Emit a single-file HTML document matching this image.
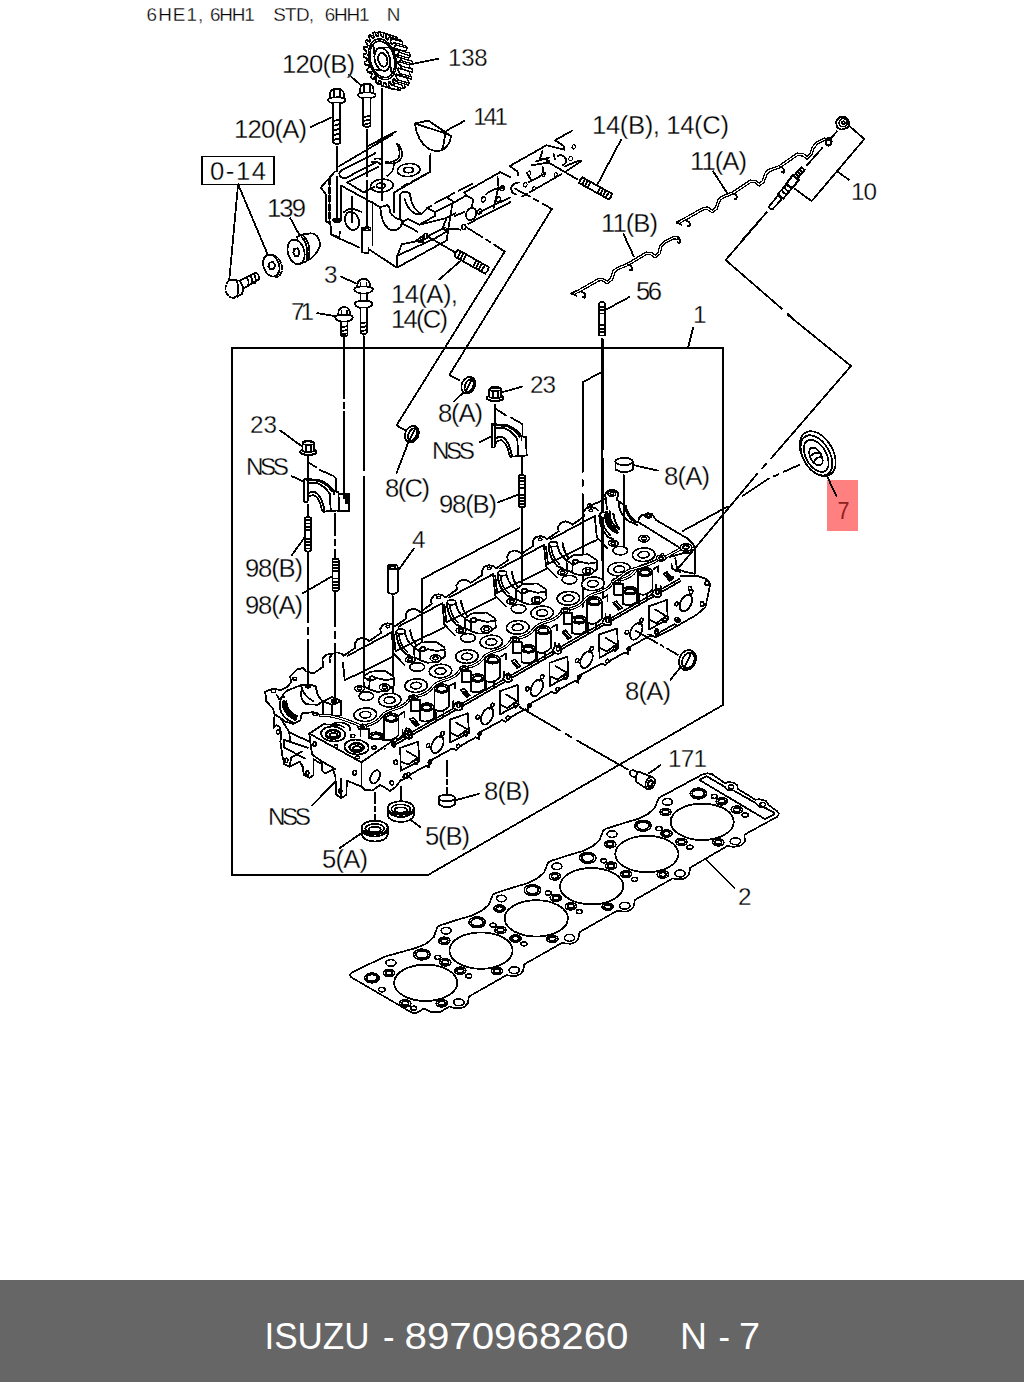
<!DOCTYPE html>
<html><head><meta charset="utf-8"><title>ISUZU - 8970968260 N - 7</title>
<style>
html,body{margin:0;padding:0;background:#fff;}
body{width:1024px;height:1382px;position:relative;overflow:hidden;font-family:"Liberation Sans",sans-serif;}
svg{position:absolute;left:0;top:0;display:block;}
svg path,svg line,svg ellipse,svg circle,svg rect,svg polyline,svg polygon{vector-effect:non-scaling-stroke;}
svg text{font-family:"Liberation Sans",sans-serif;fill:#000;stroke:none;}
svg text.lb{stroke:#fff;stroke-width:0.3px;}
.l{fill:none;stroke:#000;stroke-width:1.8;stroke-linecap:round;stroke-linejoin:round;}
.t{fill:none;stroke:#000;stroke-width:1.6;stroke-linecap:round;stroke-linejoin:round;}
.w{fill:#fff;stroke:#000;stroke-width:1.8;stroke-linecap:round;stroke-linejoin:round;}
.wt{fill:#fff;stroke:#000;stroke-width:1.6;stroke-linejoin:round;}
.b{fill:#000;stroke:none;}
.wg{fill:#fff;stroke:#000;stroke-width:1.25;stroke-linejoin:round;}
.h{fill:none;stroke:#000;stroke-width:2.2;stroke-linecap:round;stroke-linejoin:round;}
#footer{position:absolute;left:0;top:1280px;width:1024px;height:102px;background:#666666;}
#footer span{position:absolute;top:0;line-height:102px;color:#fff;font-size:40px;white-space:pre;}
</style></head><body>
<svg width="1024" height="1382" viewBox="0 0 1024 1382" shape-rendering="crispEdges">
<!-- 05_bg -->
<rect x="827" y="480" width="31" height="50.5" fill="#ff8080"/>

<!-- 10_frame -->
<path class="l" d="M232 348 H723 V705 L428 875 H232 Z"/>
<rect class="l" x="202" y="156.5" width="72" height="28"/>
<path class="l" d="M693 328 L688 348"/>

<!-- 20_tophead -->
<!-- frame A: region [310,130]-[510,290], scale 5.12 -->
<g transform="translate(310,130) scale(0.1953125)">
 <g class="l">
  <!-- left outline -->
  <path d="M55,295 L128,213"/>
  <path d="M55,295 L80,328 V465 L100,480"/>
  <path d="M150,185 L420,25"/>
  <path d="M300,80 L440,8"/>
  <path d="M163,205 L335,118 M188,243 L335,168 M163,205 Q138,225 160,242 Q175,252 188,243"/>
  <path d="M190,268 L350,188 M190,268 L275,320 M275,320 L330,290"/>
  <path d="M160,285 L360,395 L395,385 Q410,395 412,425"/>
  <path d="M160,285 V455 M215,340 V470"/>
  <path d="M105,480 L108,535 L150,548 L153,520 M108,535 L160,560 L250,600"/>
  <path d="M265,500 V625 L300,632 V605 M320,370 V590"/>
  <path d="M300,610 L445,705 L700,565"/>
  <path d="M445,705 V650 L470,585 M470,585 L590,560 M455,640 L640,555"/>
  <ellipse cx="215" cy="465" rx="35" ry="48" transform="rotate(-20 215 465)"/>
  <path d="M175,420 Q200,395 240,410 M240,410 L265,420"/>
  <!-- saddle 1 -->
  <path d="M360,400 Q365,470 400,505 Q440,525 465,495 L470,470"/>
  <path d="M412,425 Q430,450 465,460 L480,468"/>
  <path d="M430,320 V420 M460,330 V455"/>
  <path d="M460,330 Q480,305 510,325 L515,345 Q520,400 570,430"/>
  <path d="M485,355 Q500,410 545,432 L570,430"/>
  <path d="M430,320 L615,215 V130"/>
  <!-- step -->
  <path d="M570,430 L600,400 L640,420 L740,370 L700,345 L650,370"/>
  <path d="M480,468 L500,455 L560,485 L640,440 L640,420"/>
  <path d="M480,468 L475,480 L550,520"/>
  <path d="M740,370 L800,335 L835,355 L830,390"/>
  <path d="M800,335 L790,320 L975,215 L1024,240"/>
  <path d="M640,555 L700,520 M560,485 L700,450 L745,425"/>
  <path d="M700,450 L680,500 L700,520 M730,370 L700,560"/>
  <path d="M690,510 Q720,500 770,510 M600,545 L690,500"/>
  <path d="M540,570 L580,540 L580,575 Z"/>
  <path d="M740,440 L790,420 M810,480 L1024,370"/>
  <path d="M870,420 L1024,345 M960,240 L965,290 M900,330 Q930,300 990,295 M940,400 L965,290"/>
  <!-- dashed top edges -->
  <path d="M615,215 L520,265 M500,275 L470,292" />
  <path d="M830,275 L760,312 M740,322 L640,375 M620,388 L600,398"/>
 </g>
 <g class="l" style="stroke-width:2.4">
  <path d="M100,250 V475" stroke-dasharray="6 2.5"/>
  <path d="M138,90 V210 M138,240 V455"/>
  <path d="M291,0 V235 M291,262 V498"/>
  <path d="M368,0 V45 M368,70 V360"/>
 </g>
 <g class="t">
  <ellipse cx="138" cy="463" rx="20" ry="9"/><ellipse cx="138" cy="466" rx="11" ry="5"/>
  <ellipse cx="291" cy="506" rx="20" ry="9"/><ellipse cx="291" cy="509" rx="11" ry="5"/>
  <ellipse cx="505" cy="205" rx="58" ry="33" transform="rotate(-5 505 205)"/><ellipse cx="505" cy="205" rx="24" ry="14"/>
  <ellipse cx="368" cy="285" rx="58" ry="33" transform="rotate(-5 368 285)"/><ellipse cx="362" cy="285" rx="22" ry="13"/>
  <path d="M330,150 Q350,140 370,155 M315,165 Q345,155 360,175"/>
  <path d="M445,70 Q465,110 455,140 Q440,160 410,165 M455,75 Q480,115 468,145 Q455,168 420,172"/>
  <path d="M430,172 Q430,215 395,235"/>
  <ellipse cx="825" cy="430" rx="25" ry="33" transform="rotate(25 825 430)"/>
  <ellipse cx="593" cy="543" rx="10" ry="13"/><ellipse cx="787" cy="497" rx="10" ry="13"/>
  <ellipse cx="868" cy="418" rx="10" ry="13" transform="rotate(25 868 418)"/>
  <ellipse cx="888" cy="355" rx="10" ry="13" transform="rotate(25 888 355)"/>
  <ellipse cx="965" cy="355" rx="10" ry="13" transform="rotate(25 965 355)"/>
  <ellipse cx="985" cy="298" rx="10" ry="13" transform="rotate(25 985 298)"/>
 </g>
 <path class="b" d="M385,160 L415,162 L415,175 L385,172 Z"/>
</g>

<!-- 21_tophead_ext -->
<!-- frame S: region [480,120]-[640,248], scale 6.4 : ghost head right extension -->
<g transform="translate(480,120) scale(0.15625)">
 <g class="l">
  <path d="M245,355 L240,330 L190,295 L425,162 L460,170 L540,190 L535,165 L480,130 L590,68"/>
  <path d="M270,490 L300,472 M320,462 L520,347 M540,335 L650,262 M545,295 L640,258"/>
  <path d="M400,195 L385,245 L430,255 M470,215 L480,250 M500,230 Q530,215 550,250 Q555,280 530,290 M360,265 L440,240"/>
  <path d="M300,340 L330,390 L420,340 M330,390 L310,400 M400,300 L410,350 M330,290 L420,275"/>
  <path d="M250,400 Q215,400 200,430 Q195,465 230,478"/>
  <path d="M435,270 L620,378" style="stroke-width:1.8"/>
  <path d="M225,440 L320,490 M345,505 L375,520 M400,535 L465,572"/>
 </g>
 <g class="t" style="stroke-width:1.1">
  <ellipse cx="600" cy="172" rx="11" ry="14" transform="rotate(20 600 172)"/>
  <ellipse cx="580" cy="248" rx="11" ry="14" transform="rotate(20 580 248)"/>
  <ellipse cx="315" cy="340" rx="11" ry="14" transform="rotate(20 315 340)"/>
  <ellipse cx="405" cy="348" rx="11" ry="14" transform="rotate(20 405 348)"/>
  <ellipse cx="290" cy="415" rx="11" ry="14" transform="rotate(20 290 415)"/>
  <ellipse cx="485" cy="350" rx="10" ry="13" transform="rotate(20 485 350)"/>
  <ellipse cx="345" cy="440" rx="10" ry="13" transform="rotate(20 345 440)"/>
  <ellipse cx="435" cy="268" rx="9" ry="9" style="stroke-width:2"/>
 </g>
</g>

<!-- 30_gear -->
<g style="stroke-width:1.65">
<path class="wg" d="M408.5,58.8 L408.9,60.3 L412.0,61.2 L412.5,64.0 L409.6,64.9 L409.7,65.7 L409.7,67.2 L412.8,69.4 L412.6,72.1 L409.5,71.6 L409.4,72.4 L409.2,73.7 L411.8,77.0 L411.2,79.3 L408.1,77.5 L407.8,78.2 L407.3,79.3 L409.3,83.3 L408.1,85.1 L405.3,82.1 L404.9,82.6 L404.2,83.3 L405.4,87.8 L403.8,88.9 L401.6,85.0 L401.1,85.2 L400.1,85.6 L400.5,90.1 L398.7,90.3 L397.2,85.9 L396.6,85.9 L395.6,85.8 L395.0,89.9 L393.1,89.3 L392.4,84.8 L391.9,84.5 L390.8,83.9 L389.4,87.4 L387.5,86.0 L387.8,81.7 L387.3,81.2 L386.4,80.2 L384.2,82.6 L382.6,80.6 L383.8,76.9 L383.3,76.2 L382.6,74.9 L379.8,76.1 L378.6,73.6 L380.6,70.8 L380.3,70.0 L379.8,68.6 L376.7,68.4 L376.0,65.6 L378.6,64.1 L378.5,63.2 L378.3,61.7 L375.2,60.2 L375.0,57.4 L378.0,57.2 L378.0,56.4 L378.1,54.9 L375.3,52.2 L375.7,49.7 L378.8,50.8 L379.0,50.1 L379.4,48.8 L377.0,45.2 L378.0,43.1 L380.9,45.5 L381.3,44.9 L381.9,44.0 L380.3,39.7 L381.7,38.3 L384.2,41.7 L384.7,41.4 L385.5,40.8 L384.7,36.3 L386.4,35.6 L388.3,39.8 L388.9,39.7 L389.9,39.6 L390.0,35.2 L391.9,35.4 L393.0,39.9 L393.5,40.1 L394.6,40.4 L395.6,36.5 L397.5,37.6 L397.7,42.1 L398.2,42.5 L399.2,43.2 L401.1,40.3 L402.8,42.0 L402.1,46.1 L402.5,46.6 L403.4,47.8 L405.9,46.0 L407.3,48.3 L405.7,51.5 L406.1,52.3 L406.7,53.7 L409.7,53.1 L410.6,55.8 L408.3,58.0 Z"/>
<path class="wg" d="M365.1,65.0 L364.4,62.2 L376.0,65.6 L376.7,68.4 Z"/>
<path class="wg" d="M364.4,62.2 L367.0,60.6 L378.6,64.1 L376.0,65.6 Z"/>
<path class="wg" d="M363.6,56.8 L363.4,54.0 L375.0,57.4 L375.2,60.2 Z"/>
<path class="wg" d="M363.4,54.0 L366.4,53.7 L378.0,57.2 L375.0,57.4 Z"/>
<path class="wg" d="M368.2,72.7 L367.0,70.1 L378.6,73.6 L379.8,76.1 Z"/>
<path class="wg" d="M367.0,70.1 L369.0,67.4 L380.6,70.8 L378.6,73.6 Z"/>
<path class="wg" d="M372.6,79.2 L371.0,77.1 L382.6,80.6 L384.2,82.6 Z"/>
<path class="wg" d="M371.0,77.1 L372.2,73.4 L383.8,76.9 L382.6,80.6 Z"/>
<path class="wg" d="M363.7,48.8 L364.1,46.2 L375.7,49.7 L375.3,52.2 Z"/>
<path class="wg" d="M364.1,46.2 L367.2,47.4 L378.8,50.8 L375.7,49.7 Z"/>
<path class="wg" d="M377.8,83.9 L375.9,82.6 L387.5,86.0 L389.4,87.4 Z"/>
<path class="wg" d="M375.9,82.6 L376.2,78.2 L387.8,81.7 L387.5,86.0 Z"/>
<path class="wg" d="M365.4,41.7 L366.4,39.7 L378.0,43.1 L377.0,45.2 Z"/>
<path class="wg" d="M366.4,39.7 L369.3,42.0 L380.9,45.5 L378.0,43.1 Z"/>
<path class="wg" d="M383.4,86.5 L381.5,85.9 L393.1,89.3 L395.0,89.9 Z"/>
<path class="wg" d="M381.5,85.9 L380.8,81.3 L392.4,84.8 L393.1,89.3 Z"/>
<path class="wg" d="M368.7,36.2 L370.1,34.8 L381.7,38.3 L380.3,39.7 Z"/>
<path class="wg" d="M370.1,34.8 L372.6,38.3 L384.2,41.7 L381.7,38.3 Z"/>
<path class="wg" d="M373.1,32.8 L374.8,32.2 L386.4,35.6 L384.7,36.3 Z"/>
<path class="wg" d="M374.8,32.2 L376.7,36.3 L388.3,39.8 L386.4,35.6 Z"/>
<path class="wg" d="M388.9,86.7 L387.1,86.9 L398.7,90.3 L400.5,90.1 Z"/>
<path class="wg" d="M387.1,86.9 L385.6,82.5 L397.2,85.9 L398.7,90.3 Z"/>
<path class="wg" d="M393.8,84.4 L392.2,85.4 L403.8,88.9 L405.4,87.8 Z"/>
<path class="wg" d="M392.2,85.4 L390.0,81.6 L401.6,85.0 L403.8,88.9 Z"/>
<path class="wg" d="M378.4,31.7 L380.3,31.9 L391.9,35.4 L390.0,35.2 Z"/>
<path class="wg" d="M380.3,31.9 L381.4,36.5 L393.0,39.9 L391.9,35.4 Z"/>
<path class="wg" d="M384.0,33.1 L385.9,34.1 L397.5,37.6 L395.6,36.5 Z"/>
<path class="wg" d="M385.9,34.1 L386.1,38.6 L397.7,42.1 L397.5,37.6 Z"/>
<path class="wg" d="M397.7,79.9 L396.5,81.6 L408.1,85.1 L409.3,83.3 Z"/>
<path class="wg" d="M396.5,81.6 L393.7,78.7 L405.3,82.1 L408.1,85.1 Z"/>
<path class="wg" d="M400.2,73.5 L399.6,75.9 L411.2,79.3 L411.8,77.0 Z"/>
<path class="wg" d="M399.6,75.9 L396.5,74.1 L408.1,77.5 L411.2,79.3 Z"/>
<path class="wg" d="M389.5,36.8 L391.2,38.6 L402.8,42.0 L401.1,40.3 Z"/>
<path class="wg" d="M391.2,38.6 L390.5,42.6 L402.1,46.1 L402.8,42.0 Z"/>
<path class="wg" d="M401.2,65.9 L401.0,68.6 L412.6,72.1 L412.8,69.4 Z"/>
<path class="wg" d="M401.0,68.6 L397.9,68.2 L409.5,71.6 L412.6,72.1 Z"/>
<path class="wg" d="M394.3,42.5 L395.7,44.8 L407.3,48.3 L405.9,46.0 Z"/>
<path class="wg" d="M395.7,44.8 L394.1,48.1 L405.7,51.5 L407.3,48.3 Z"/>
<path class="wg" d="M398.1,49.7 L399.0,52.4 L410.6,55.8 L409.7,53.1 Z"/>
<path class="wg" d="M399.0,52.4 L396.7,54.6 L408.3,58.0 L410.6,55.8 Z"/>
<path class="wg" d="M400.4,57.8 L400.9,60.6 L412.5,64.0 L412.0,61.2 Z"/>
<path class="wg" d="M400.9,60.6 L398.0,61.5 L409.6,64.9 L412.5,64.0 Z"/>
<path class="wt" d="M396.9,55.4 L397.3,56.9 L400.4,57.8 L400.9,60.6 L398.0,61.5 L398.1,62.3 L398.1,63.8 L401.2,65.9 L401.0,68.6 L397.9,68.2 L397.8,68.9 L397.6,70.3 L400.2,73.5 L399.6,75.9 L396.5,74.1 L396.2,74.7 L395.7,75.8 L397.7,79.9 L396.5,81.6 L393.7,78.7 L393.3,79.1 L392.6,79.9 L393.8,84.4 L392.2,85.4 L390.0,81.6 L389.5,81.8 L388.5,82.1 L388.9,86.7 L387.1,86.9 L385.6,82.5 L385.0,82.5 L384.0,82.3 L383.4,86.5 L381.5,85.9 L380.8,81.3 L380.3,81.1 L379.2,80.5 L377.8,83.9 L375.9,82.6 L376.2,78.2 L375.7,77.7 L374.8,76.8 L372.6,79.2 L371.0,77.1 L372.2,73.4 L371.7,72.8 L371.0,71.5 L368.2,72.7 L367.0,70.1 L369.0,67.4 L368.7,66.6 L368.2,65.1 L365.1,65.0 L364.4,62.2 L367.0,60.6 L366.9,59.8 L366.7,58.3 L363.6,56.8 L363.4,54.0 L366.4,53.7 L366.4,52.9 L366.5,51.5 L363.7,48.8 L364.1,46.2 L367.2,47.4 L367.4,46.7 L367.8,45.4 L365.4,41.7 L366.4,39.7 L369.3,42.0 L369.7,41.5 L370.3,40.6 L368.7,36.2 L370.1,34.8 L372.6,38.3 L373.1,37.9 L373.9,37.4 L373.1,32.8 L374.8,32.2 L376.7,36.3 L377.3,36.3 L378.3,36.2 L378.4,31.7 L380.3,31.9 L381.4,36.5 L381.9,36.6 L383.0,37.0 L384.0,33.1 L385.9,34.1 L386.1,38.6 L386.6,39.0 L387.6,39.8 L389.5,36.8 L391.2,38.6 L390.5,42.6 L390.9,43.2 L391.8,44.3 L394.3,42.5 L395.7,44.8 L394.1,48.1 L394.5,48.8 L395.1,50.2 L398.1,49.7 L399.0,52.4 L396.7,54.6 Z"/>
<ellipse class="t" cx="382.3" cy="59.3" rx="13.4" ry="20.8" transform="rotate(-15.0 382.3 59.3)" style="stroke-width:1.6"/>
<ellipse class="t" cx="382.3" cy="59.3" rx="11.9" ry="18.6" transform="rotate(-15.0 382.3 59.3)" />
<ellipse class="t" cx="382.3" cy="59.3" rx="7.6" ry="11.8" transform="rotate(-15.0 382.3 59.3)" style="stroke-width:1.8"/>
<ellipse class="wt" cx="382.8" cy="59.8" rx="4.5" ry="7.0" transform="rotate(-15.0 382.8 59.8)" style="stroke-width:1.8"/>
<path class="t" style="stroke-width:1.6" d="M390.4,64.4 L391.5,73.5"/>
<path class="t" style="stroke-width:1.6" d="M380.4,70.2 L374.2,69.5"/>
<path class="t" style="stroke-width:1.6" d="M374.3,53.6 L373.5,44.6"/>
<path class="t" style="stroke-width:1.6" d="M383.0,47.8 L389.0,47.2"/>
</g>
<!-- 31_bolts_top -->
<!-- frame B: region [300,20]-[520,170], scale 4.6545 -->
<g transform="translate(300,20) scale(0.21484)">
 <g class="l">
  <!-- gear axis -->
  <path style="stroke-width:2.2" d="M381,322 V545 M381,572 V700"/>
  <!-- bolt 120(A) -->
  <path class="w" d="M140,345 Q140,322 172,320 Q204,322 204,345 V368 H140 Z"/>
  <path d="M158,330 V368 M186,330 V368"/>
  <path class="w" d="M130,372 Q130,360 172,360 Q214,360 212,372 Q212,388 172,388 Q132,388 130,372 Z"/>
  <path class="w" d="M155,388 V572 Q172,582 188,572 V388"/>
  <path d="M157,470 L187,462 M157,492 L187,484 M157,514 L187,506 M157,536 L187,528 M157,558 L187,550"/>
  <path style="stroke-width:2.2" d="M172,592 V700"/>
  <!-- bolt 120(B) -->
  <path class="w" d="M280,322 Q280,298 311,296 Q342,298 342,322 V346 H280 Z"/>
  <path d="M298,308 V346 M325,308 V346"/>
  <path class="w" d="M270,350 Q270,337 311,337 Q353,337 352,350 Q352,364 311,364 Q271,364 270,350 Z"/>
  <path class="w" d="M295,364 V493 Q311,503 328,493 V364"/>
  <path d="M297,452 L327,445 M297,470 L327,463 M297,487 L327,480"/>
  <path style="stroke-width:2.2" d="M311,512 V700"/>
  <!-- key 141 -->
  <path class="w" d="M535,482 L597,468 L703,540 Q700,575 672,600 Q640,620 600,600 Q545,565 535,482 Z"/>
  <path d="M535,482 L675,527 L703,540 M675,527 Q672,575 660,607"/>
  <path d="M607,625 V700"/>
  <!-- leaders -->
  <path d="M520,205 L645,180"/>
  <path d="M228,255 L285,305"/>
  <path d="M50,498 L155,450"/>
  <path d="M682,515 L765,470"/>
 </g>
</g>

<!-- 32_left_parts -->
<!-- frame C: region [200,180]-[400,340], scale 5.12 -->
<g transform="translate(200,180) scale(0.1953125)">
 <g class="l">
  <!-- 0-14 leaders -->
  <path d="M195,22 L150,510 M195,22 L345,378"/>
  <!-- bolt 0-14 (dashed head) -->
  <path d="M205,515 L285,475 Q305,480 300,510 L222,555" />
  <path d="M240,500 Q255,520 245,545 M258,490 Q273,510 263,535 M276,482 Q291,502 281,527"/>
  <path d="M150,512 L205,515 L222,555 L215,585 L170,603" />
  <path stroke-dasharray="4 2.5" d="M150,512 Q125,535 132,570 Q145,605 175,603"/>
  <path d="M190,520 Q200,560 190,598"/>
  <!-- washer -->
  <ellipse cx="365" cy="438" rx="40" ry="58" transform="rotate(-18 365 438)"/>
  <path stroke-dasharray="4 2.5" d="M345,383 Q400,375 420,440 Q425,490 390,497"/>
  <path d="M355,425 L372,418 L385,435 L378,455 L360,458 L350,442 Z"/>
  <!-- 139 bushing -->
  <path class="w" d="M498,290 Q545,268 585,275 Q620,300 612,345 Q590,395 545,415 L510,432 Z"/>
  <ellipse class="w" cx="492" cy="368" rx="42" ry="64" transform="rotate(-15 492 368)"/>
  <path d="M520,292 Q560,330 545,415 M530,287 Q572,325 556,408"/>
  <path d="M483,352 L500,350 L510,368 L503,388 L488,390 L478,372 Z"/>
  <path d="M462,195 L508,280"/>
  <!-- bolt 3 -->
  <path d="M722,495 L800,530"/>
  <path class="w" d="M805,548 Q803,508 838,505 Q872,508 870,548 L868,565 H808 Z"/>
  <path d="M822,525 V565 M852,525 V565"/>
  <path class="w" d="M790,560 Q790,545 838,545 Q886,545 885,560 Q880,580 838,582 Q795,580 790,560 Z"/>
  <path class="w" d="M822,582 V630 H855 V582"/>
  <path class="w" d="M793,635 Q793,618 838,618 Q883,618 883,635 Q875,655 838,657 Q800,655 793,635 Z"/>
  <path class="w" d="M822,655 V782 Q838,795 855,782 V655"/>
  <path d="M824,735 L853,728 M824,755 L853,748 M824,775 L853,768"/>
  <path d="M838,800 V830"/>
  <!-- bolt 71 -->
  <path d="M600,682 L695,697"/>
  <path class="w" d="M708,690 Q706,652 738,650 Q770,652 768,690 L766,708 H710 Z"/>
  <path d="M724,670 V708 M752,670 V708"/>
  <path class="w" d="M692,705 Q692,690 738,690 Q784,690 782,705 Q778,724 738,726 Q697,724 692,705 Z"/>
  <path class="w" d="M720,726 V795 Q738,806 755,795 V726"/>
  <path d="M722,755 L753,748 M722,775 L753,768 M722,792 L753,785"/>
  <path d="M738,808 V830"/>
 </g>
</g>

<!-- 33_right_top -->
<!-- frame F: region [670,100]-[870,240], scale 5.12 -->
<g transform="translate(670,100) scale(0.1953125)">
 <!-- 11(A) strip: double line via black+white -->
 <g fill="none" stroke-linejoin="round" stroke-linecap="round">
  <path stroke="#000" stroke-width="3.6" d="M40,628 L70,613 L172,556 L192,554 L217,571 L237,554 L252,511 L267,498 L322,476 L412,416 L437,418 L457,434 L477,418 L492,376 L507,361 L562,341 L652,278 L682,281 L702,296 L722,276 L732,246 L752,221 L792,201 L812,203"/>
  <path stroke="#fff" stroke-width="1.1" d="M46,628 L70,613 L172,556 L192,554 L217,571 L237,554 L252,511 L267,498 L322,476 L412,416 L437,418 L457,434 L477,418 L492,376 L507,361 L562,341 L652,278 L682,281 L702,296 L722,276 L732,246 L752,221 L792,201 L806,203"/>
 </g>
 <g class="l">
  <path d="M35,628 L60,640 M85,618 Q108,625 100,648 L90,645" style="stroke-width:1.8"/>
  <path d="M322,478 Q348,482 340,508 L330,505" style="stroke-width:1.8"/>
  <path d="M562,343 Q590,347 582,372 L572,369" style="stroke-width:1.8"/>
  <ellipse cx="812" cy="214" rx="15" ry="19" style="stroke-width:2.2"/>
  <!-- nut -->
  <path class="w" d="M850,110 L868,88 L900,88 L918,112 L912,140 L880,152 L855,140 Z"/>
  <ellipse cx="887" cy="116" rx="21" ry="21" style="stroke-width:1.6"/>
  <ellipse cx="888" cy="116" rx="8" ry="8" style="stroke-width:1.6"/>
  <!-- bracket for 10 -->
  <path d="M920,135 L995,200 L725,518 L640,455"/>
  <path d="M860,368 L915,408"/>
  <!-- dash-dot axis -->
  <path d="M855,160 L825,195 M780,245 L700,335"/>
  <!-- glow plug -->
  <path class="w" d="M672,345 L690,358 L652,402 L634,388 Z"/>
  <path d="M662,357 L680,370 M652,369 L670,382 M643,380 L660,393" style="stroke-width:2"/>
  <path class="w" d="M628,385 L660,410 L625,452 L596,428 Z" style="stroke-width:2.2"/>
  <path class="w" d="M596,432 L622,455 L580,505 L552,482 Z"/>
  <path d="M585,446 Q600,470 612,466 M572,460 Q588,485 600,481" style="stroke-width:2"/>
  <path class="w" d="M552,490 L572,507 L525,560 Q510,562 507,545 Z"/>
  <path d="M495,575 L370,717"/>
 </g>
</g>
<!-- frame G: region [560,190]-[760,330], scale 5.12 -->
<g transform="translate(560,190) scale(0.1953125)">
 <g fill="none" stroke-linejoin="round" stroke-linecap="round">
  <path stroke="#000" stroke-width="3.6" d="M65,530 L97,517 L197,460 L217,458 L242,474 L264,456 L277,416 L297,401 L347,381 L442,324 L467,326 L487,341 L507,324 L517,286 L537,266 L582,244 L605,246"/>
  <path stroke="#fff" stroke-width="1.1" d="M71,530 L97,517 L197,460 L217,458 L242,474 L264,456 L277,416 L297,401 L347,381 L442,324 L467,326 L487,341 L507,324 L517,286 L537,266 L582,244 L600,246"/>
 </g>
 <g class="l">
  <path d="M58,530 L85,542 M110,520 Q135,528 127,552 L117,549" style="stroke-width:1.8"/>
  <path d="M347,383 Q375,387 367,412 L357,409" style="stroke-width:1.8"/>
  <path d="M600,240 Q622,248 612,272 L602,268" style="stroke-width:1.8"/>
  <path d="M325,225 L378,340"/>
  <path d="M240,610 L355,548"/>
  <!-- stud 56 -->
  <path class="w" d="M201,585 Q201,572 215,572 Q229,572 229,585 V745 H201 Z"/>
  <path d="M203,598 H227 M203,615 H227 M203,632 H227 M203,690 H227 M203,710 H227 M203,728 H227"/>
 </g>
</g>
<!-- frame E: region [560,100]-[880,320], scale 3.2 -->
<g transform="translate(560,100) scale(0.3125)">
 <g class="l">
  <path d="M195,128 L120,270"/>
  <!-- long leader from plug: corner and down -->
  <path d="M640,385 L530,512 L710,668 M728,684 L740,694"/>
 </g>
</g>
<g class="l" transform="rotate(29 580.8 180.2)"><path class="w" d="M580.8,176.9 H614.5 Q616,180.2 614.5,183.5 H580.8 Q579.3,180.2 580.8,176.9 Z"/><path d="M584,177 V183.4 M587.2,177 V183.4 M590.4,177 V183.4 M601.5,177 V183.4 M604.7,177 V183.4 M607.9,177 V183.4 M611.1,177 V183.4"/></g>
<g class="l">
 <path d="M788,315 L851,366"/>
 <path d="M602,339 V560"/>
</g>

<!-- 40_boxparts -->
<g class="l">
<path style="stroke-width:2.2" d="M343.8,338 V398 M343.8,403 V408 M343.8,412 V498"/>
<path d="M364,337 V470 M364,477 V689"/>
<path style="stroke-width:1.8" d="M308,456 V480 M308,505 V517"/>
<path style="stroke-width:2" d="M308,553 V622 M308,628 V634 M308,640 V685"/>
<path style="stroke-width:2" d="M335.2,514 V535 M335.2,540 V545 M335.2,550 V558 M335.2,592 V626 M335.2,632 V638 M335.2,644 V698"/>
<path d="M392.6,596 V698"/>
<path style="stroke-width:1.8" d="M495.2,405 V425 M521.8,458 V475 M521.8,508 V587"/>
<path d="M602.6,371.5 L582.7,382.2 V472 M582.7,480 V486 M582.7,494 V607"/>
<path d="M602.6,339 V450 M602.6,458 V597"/>
<path d="M623.7,475 V546"/>
<path d="M519.6,528 L422,579 V643"/>
<path d="M309,463 L316,467 M320,470 L333.6,476 L335.6,478 V492"/>
<path d="M496,409 L506,415.5 M510.8,417.4 L522.5,424.2 V436"/>
<path d="M504.7,251.6 L396.5,425.4 L405,430"/>
<path d="M551.6,209.4 L449.3,375 L459,380"/>
<path d="M466,227 L482,237 M486,239.5 L490,242 M494,244.5 L504.7,251.6"/>
<path d="M427,236 L456,253"/>
<path d="M280,430.3 L301.4,446"/>
<path d="M291.7,476.2 L304.4,482"/>
<path d="M291.7,555.3 L304.4,537.7"/>
<path d="M396.5,473.2 L408.8,441"/>
<path d="M398.5,570 L413.7,548.8"/>
<path d="M454.2,401.2 L464,392"/>
<path d="M503,392 L522.5,386.5"/>
<path d="M479.6,442.2 L491.9,436.3"/>
<path d="M498.1,502.3 L518.6,494.5"/>
<path d="M713.1,171.3 L727.2,193.1"/>
<path d="M439.3,279.5 L461,260.4"/>
<path d="M303,593.2 L331.2,576.8"/>
</g>
<g class="l" transform="rotate(29.5 456.3 253.1)"><path class="w" d="M456.3,249.3 H491.5 Q493,253.1 491.5,256.9 H456.3 Q454.8,253.1 456.3,249.3 Z"/><path d="M459.5,249.5 V256.7 M462.7,249.5 V256.7 M465.9,249.5 V256.7 M477.5,249.5 V256.7 M480.7,249.5 V256.7 M483.9,249.5 V256.7 M487.1,249.5 V256.7"/></g>
<g transform="translate(308.3,448.4) scale(0.19531)" class="l">
<ellipse class="w" cx="0" cy="18" rx="42" ry="15" style="stroke-width:2"/>
<path class="w" d="M-30,14 V-25 Q-30,-38 0,-40 Q30,-38 30,-25 V14 Q0,24 -30,14 Z" style="stroke-width:1.8"/>
<ellipse cx="0" cy="-26" rx="28" ry="9"/>
<path d="M-12,-16 V18 M14,-16 V18"/>
</g>
<g transform="translate(495.2,394.5) scale(0.19531)" class="l">
<ellipse class="w" cx="0" cy="18" rx="42" ry="15" style="stroke-width:2"/>
<path class="w" d="M-30,14 V-25 Q-30,-38 0,-40 Q30,-38 30,-25 V14 Q0,24 -30,14 Z" style="stroke-width:1.8"/>
<ellipse cx="0" cy="-26" rx="28" ry="9"/>
<path d="M-12,-16 V18 M14,-16 V18"/>
</g>
<g transform="translate(304.4,479.1) scale(0.19531)" class="l">
<path class="w" d="M170,75 L228,75 L228,165 L170,165 Z"/>
<path class="b" d="M196,78 L228,78 L228,128 L210,128 L210,100 L196,100 Z"/>
<path class="w" d="M0,0 L72,3 Q125,20 152,62 L174,66 L178,160 L104,166 Q95,172 88,152 Q78,100 52,84 Q40,78 20,92 L17,112 Q8,126 0,115 Z"/>
<path style="stroke-width:1.9" d="M17,22 L60,19 Q105,35 130,76 M17,76 Q35,60 55,66 Q85,85 98,140 L103,165"/>
<path d="M17,8 V110 M130,76 L135,162 M152,62 L152,80"/>
<path style="stroke-width:1.9" d="M10,5 L70,8 Q118,24 142,64"/>
</g>
<g transform="translate(491.9,424.2) scale(0.19531)" class="l">
<path class="w" d="M0,0 L72,3 Q125,20 152,62 L174,66 L178,160 L104,166 Q95,172 88,152 Q78,100 52,84 Q40,78 20,92 L17,112 Q8,126 0,115 Z"/>
<path style="stroke-width:1.9" d="M17,22 L60,19 Q105,35 130,76 M17,76 Q35,60 55,66 Q85,85 98,140 L103,165"/>
<path d="M17,8 V110 M130,76 L135,162 M152,62 L152,80"/>
<path style="stroke-width:1.9" d="M10,5 L70,8 Q118,24 142,64"/>
</g>
<path class="w" d="M304.8,518.7 Q304.8,517.2 307.9,517.2 Q311.0,517.2 311.0,518.7 V550.4 Q307.9,552.9 304.8,550.4 Z"/>
<path class="l" d="M305.3,520.2 H310.5 M305.3,523.4 H310.5 M305.3,526.6 H310.5 M305.3,529.8 H310.5 M305.3,548.4 H310.5 M305.3,545.2 H310.5 M305.3,542.0 H310.5 M305.3,538.8 H310.5 "/>
<path class="w" d="M518.8,476.5 Q518.8,475.0 521.9,475.0 Q525.0,475.0 525.0,476.5 V506.2 Q521.9,508.7 518.8,506.2 Z"/>
<path class="l" d="M519.3,478.0 H524.5 M519.3,481.2 H524.5 M519.3,484.4 H524.5 M519.3,487.6 H524.5 M519.3,504.2 H524.5 M519.3,501.0 H524.5 M519.3,497.8 H524.5 M519.3,494.6 H524.5 "/>
<path class="w" d="M332.4,560.2 Q332.4,558.7 335.5,558.7 Q338.6,558.7 338.6,560.2 V590.0 Q335.5,592.5 332.4,590.0 Z"/>
<path class="l" d="M332.9,561.7 H338.1 M332.9,564.9 H338.1 M332.9,568.1 H338.1 M332.9,571.3 H338.1 M332.9,588.0 H338.1 M332.9,584.8 H338.1 M332.9,581.6 H338.1 M332.9,578.4 H338.1 "/>
<path class="w" d="M387.6,567 V592 Q392.6,596 397.6,592 V567 Z"/><ellipse class="w" cx="392.6" cy="567" rx="5" ry="2.6"/><ellipse class="t" cx="392.6" cy="567.2" rx="2.8" ry="1.3"/>
<g class="l" transform="rotate(25 411.8 434.2)">
<ellipse class="w" cx="411.8" cy="434.2" rx="6.6" ry="8.6" style="stroke-width:1.8"/>
<ellipse cx="412.6" cy="434.2" rx="4.0" ry="6.6"/>
<path d="M412.3,426.6 V441.8"/>
</g>
<g class="l" transform="rotate(25 468.4 385.2)">
<ellipse class="w" cx="468.4" cy="385.2" rx="6.6" ry="8.6" style="stroke-width:1.8"/>
<ellipse cx="469.2" cy="385.2" rx="4.0" ry="6.6"/>
<path d="M468.9,377.6 V392.8"/>
</g>
<!-- 50_head -->
<path class="l" d="M330.2,662.1 L329.4,658.2 L332.1,653.9 L337.0,652.4 L341.5,653.8 L343.8,655.7 L355.5,647.6 L354.8,643.7 L357.5,639.4 L362.4,637.8 L366.9,639.2 L369.2,641.2 L380.9,633.0 L380.2,629.1 L382.9,624.8 L387.8,623.3 L392.3,624.6 L394.6,626.6 L406.3,618.5 L405.5,614.6 L408.3,610.3 L413.2,608.7 L417.7,610.1 L420.0,612.1 L431.7,603.9 L430.9,600.0 L433.7,595.7 L438.6,594.2 L443.0,595.5 L445.4,597.5 L457.1,589.4 L456.3,585.5 L459.1,581.2 L463.9,579.6 L468.4,581.0 L470.8,582.9 L482.5,574.8 L481.7,570.9 L484.5,566.6 L489.3,565.1 L493.8,566.4 L496.2,568.4 L507.9,560.3 L507.1,556.4 L509.8,552.1 L514.7,550.5 L519.2,551.9 L521.6,553.8 L533.3,545.7 L532.5,541.8 L535.2,537.5 L540.1,536.0 L544.6,537.3 L547.0,539.3 L558.7,531.2 L557.9,527.3 L560.6,523.0 L565.5,521.4 L570.0,522.8 L572.3,524.7 L584.1,516.6 L583.3,512.7 L586.0,508.4 L590.9,506.9 L595.4,508.2 L597.7,510.2" />
<ellipse class="t" cx="387.8" cy="626.6" rx="1.8" ry="1.2" />
<ellipse class="t" cx="438.6" cy="597.5" rx="1.8" ry="1.2" />
<ellipse class="t" cx="489.3" cy="568.4" rx="1.8" ry="1.2" />
<ellipse class="t" cx="540.1" cy="539.3" rx="1.8" ry="1.2" />
<ellipse class="t" cx="590.9" cy="510.2" rx="1.8" ry="1.2" />
<path class="l" d="M 347.7,655.7 L 391.7,632.3 L 393.6,653.8 M 393.6,653.8 L 404.4,664.7 M 342.9,662.7 L 344.8,680.3 L 393.6,656.3" />
<path class="l" d="M 396.2,631.9 Q 396.6,645.5 405.4,653.8 L 410.2,655.7 M 410.2,630.3 Q 411.8,640.1 416.5,645.2" style="stroke-width:2"/>
<path class="l" d="M 404.4,629.5 Q 405.9,641.6 414.1,647.5" />
<path class="t" d="M 398.9,634.2 Q 400.1,645.5 407.3,651.8" />
<ellipse class="wt" cx="400.9" cy="631.5" rx="4.3" ry="2.5" />
<path class="l" d="M 398.5,626.6 L 442.5,603.2 L 444.4,624.6 M 444.4,624.6 L 455.2,635.6 M 393.6,633.6 L 395.6,651.2 L 444.4,627.2" />
<path class="l" d="M 447.0,602.8 Q 447.3,616.4 456.1,624.6 L 461.0,626.6 M 461.0,601.2 Q 462.6,611.0 467.3,616.1" style="stroke-width:2"/>
<path class="l" d="M 455.2,600.4 Q 456.7,612.5 464.9,618.4" />
<path class="t" d="M 449.7,605.1 Q 450.9,616.4 458.1,622.7" />
<ellipse class="wt" cx="451.6" cy="602.4" rx="4.3" ry="2.5" />
<path class="l" d="M 449.3,597.5 L 493.2,574.1 L 495.2,595.5 M 495.2,595.5 L 505.9,606.5 M 444.4,604.5 L 446.4,622.1 L 495.2,598.1" />
<path class="l" d="M 497.7,573.7 Q 498.1,587.3 506.9,595.5 L 511.8,597.5 M 511.8,572.1 Q 513.4,581.9 518.0,587.0" style="stroke-width:2"/>
<path class="l" d="M 505.9,571.3 Q 507.5,583.4 515.7,589.3" />
<path class="t" d="M 500.5,576.0 Q 501.6,587.3 508.9,593.6" />
<ellipse class="wt" cx="502.4" cy="573.3" rx="4.3" ry="2.5" />
<path class="l" d="M 500.1,568.4 L 544.0,545.0 L 546.0,566.4 M 546.0,566.4 L 556.7,577.4 M 495.2,575.4 L 497.1,593.0 L 546.0,569.0" />
<path class="l" d="M 548.5,544.6 Q 548.9,558.2 557.7,566.4 L 562.6,568.4 M 562.6,543.0 Q 564.1,552.8 568.8,557.9" style="stroke-width:2"/>
<path class="l" d="M 556.7,542.2 Q 558.3,554.3 566.5,560.2" />
<path class="t" d="M 551.2,546.9 Q 552.4,558.2 559.6,564.5" />
<ellipse class="wt" cx="553.2" cy="544.2" rx="4.3" ry="2.5" />
<path class="l" d="M 550.9,539.3 L 594.8,515.9 L 596.8,537.3 M 596.8,537.3 L 607.5,548.3 M 546.0,546.3 L 547.9,563.9 L 596.8,539.9" />
<path class="l" d="M 599.3,515.5 Q 599.7,529.1 608.5,537.3 L 613.4,539.3 M 613.4,513.9 Q 614.9,523.7 619.6,528.8" style="stroke-width:2"/>
<path class="l" d="M 607.5,513.1 Q 609.1,525.2 617.3,531.1" />
<path class="t" d="M 602.0,517.8 Q 603.2,529.1 610.4,535.4" />
<ellipse class="wt" cx="604.0" cy="515.1" rx="4.3" ry="2.5" />
<ellipse class="wt" cx="365.3" cy="714.7" rx="11.3" ry="6.8" transform="rotate(-3 365.3 714.7)" style="stroke-width:1.6"/>
<ellipse class="t" cx="365.3" cy="714.7" rx="5.5" ry="3.3" transform="rotate(-3 365.3 714.7)" />
<ellipse class="wt" cx="338.9" cy="729.3" rx="11.3" ry="6.8" transform="rotate(-3 338.9 729.3)" style="stroke-width:1.6"/>
<ellipse class="t" cx="338.9" cy="729.3" rx="5.5" ry="3.3" transform="rotate(-3 338.9 729.3)" />
<ellipse class="wt" cx="366.3" cy="696.1" rx="7.4" ry="4.3" />
<ellipse class="wt" cx="359.5" cy="688.7" rx="4.9" ry="2.9" />
<ellipse class="t" cx="359.5" cy="688.7" rx="2.1" ry="1.4" style="stroke-width:1.7"/>
<ellipse class="wt" cx="416.1" cy="685.6" rx="11.3" ry="6.8" transform="rotate(-3 416.1 685.6)" style="stroke-width:1.6"/>
<ellipse class="t" cx="416.1" cy="685.6" rx="5.5" ry="3.3" transform="rotate(-3 416.1 685.6)" />
<ellipse class="wt" cx="389.7" cy="700.2" rx="11.3" ry="6.8" transform="rotate(-3 389.7 700.2)" style="stroke-width:1.6"/>
<ellipse class="t" cx="389.7" cy="700.2" rx="5.5" ry="3.3" transform="rotate(-3 389.7 700.2)" />
<ellipse class="wt" cx="417.1" cy="667.0" rx="7.4" ry="4.3" />
<ellipse class="wt" cx="410.2" cy="659.6" rx="4.9" ry="2.9" />
<ellipse class="t" cx="410.2" cy="659.6" rx="2.1" ry="1.4" style="stroke-width:1.7"/>
<ellipse class="wt" cx="466.9" cy="656.5" rx="11.3" ry="6.8" transform="rotate(-3 466.9 656.5)" style="stroke-width:1.6"/>
<ellipse class="t" cx="466.9" cy="656.5" rx="5.5" ry="3.3" transform="rotate(-3 466.9 656.5)" />
<ellipse class="wt" cx="440.5" cy="671.1" rx="11.3" ry="6.8" transform="rotate(-3 440.5 671.1)" style="stroke-width:1.6"/>
<ellipse class="t" cx="440.5" cy="671.1" rx="5.5" ry="3.3" transform="rotate(-3 440.5 671.1)" />
<ellipse class="wt" cx="467.9" cy="637.9" rx="7.4" ry="4.3" />
<ellipse class="wt" cx="461.0" cy="630.5" rx="4.9" ry="2.9" />
<ellipse class="t" cx="461.0" cy="630.5" rx="2.1" ry="1.4" style="stroke-width:1.7"/>
<ellipse class="wt" cx="517.7" cy="627.4" rx="11.3" ry="6.8" transform="rotate(-3 517.7 627.4)" style="stroke-width:1.6"/>
<ellipse class="t" cx="517.7" cy="627.4" rx="5.5" ry="3.3" transform="rotate(-3 517.7 627.4)" />
<ellipse class="wt" cx="491.3" cy="642.0" rx="11.3" ry="6.8" transform="rotate(-3 491.3 642.0)" style="stroke-width:1.6"/>
<ellipse class="t" cx="491.3" cy="642.0" rx="5.5" ry="3.3" transform="rotate(-3 491.3 642.0)" />
<ellipse class="wt" cx="518.6" cy="608.8" rx="7.4" ry="4.3" />
<ellipse class="wt" cx="511.8" cy="601.4" rx="4.9" ry="2.9" />
<ellipse class="t" cx="511.8" cy="601.4" rx="2.1" ry="1.4" style="stroke-width:1.7"/>
<ellipse class="wt" cx="568.4" cy="598.3" rx="11.3" ry="6.8" transform="rotate(-3 568.4 598.3)" style="stroke-width:1.6"/>
<ellipse class="t" cx="568.4" cy="598.3" rx="5.5" ry="3.3" transform="rotate(-3 568.4 598.3)" />
<ellipse class="wt" cx="542.1" cy="612.9" rx="11.3" ry="6.8" transform="rotate(-3 542.1 612.9)" style="stroke-width:1.6"/>
<ellipse class="t" cx="542.1" cy="612.9" rx="5.5" ry="3.3" transform="rotate(-3 542.1 612.9)" />
<ellipse class="wt" cx="569.4" cy="579.7" rx="7.4" ry="4.3" />
<ellipse class="wt" cx="562.6" cy="572.3" rx="4.9" ry="2.9" />
<ellipse class="t" cx="562.6" cy="572.3" rx="2.1" ry="1.4" style="stroke-width:1.7"/>
<ellipse class="wt" cx="619.2" cy="569.2" rx="11.3" ry="6.8" transform="rotate(-3 619.2 569.2)" style="stroke-width:1.6"/>
<ellipse class="t" cx="619.2" cy="569.2" rx="5.5" ry="3.3" transform="rotate(-3 619.2 569.2)" />
<ellipse class="wt" cx="592.9" cy="583.8" rx="11.3" ry="6.8" transform="rotate(-3 592.9 583.8)" style="stroke-width:1.6"/>
<ellipse class="t" cx="592.9" cy="583.8" rx="5.5" ry="3.3" transform="rotate(-3 592.9 583.8)" />
<ellipse class="wt" cx="620.2" cy="550.6" rx="7.4" ry="4.3" />
<ellipse class="wt" cx="613.4" cy="543.2" rx="4.9" ry="2.9" />
<ellipse class="t" cx="613.4" cy="543.2" rx="2.1" ry="1.4" style="stroke-width:1.7"/>
<ellipse class="wt" cx="643.6" cy="554.7" rx="11.3" ry="6.8" transform="rotate(-3 643.6 554.7)" style="stroke-width:1.6"/>
<ellipse class="t" cx="643.6" cy="554.7" rx="5.5" ry="3.3" transform="rotate(-3 643.6 554.7)" />
<path class="w" d="M 363.4,676.6 L 370.2,671.7 L 384.8,670.7 L 393.6,676.6 L 394.2,685.4 L 386.8,691.2 L 377.0,691.8 L 369.2,689.3 L 363.8,686.4 Z" />
<path class="l" d="M 369.2,689.3 L 369.6,680.9 L 377.0,678.2 L 385.8,680.1 L 394.2,678.6 M 369.6,680.9 L 363.8,677.0" />
<ellipse class="t" cx="372.1" cy="678.2" rx="2.7" ry="1.8" style="stroke-width:2"/>
<ellipse class="wt" cx="384.8" cy="687.3" rx="5.5" ry="3.3" />
<ellipse class="t" cx="384.8" cy="687.3" rx="2.5" ry="1.6" style="stroke-width:1.6"/>
<path class="w" d="M 414.1,647.5 L 421.0,642.6 L 435.6,641.6 L 444.4,647.5 L 445.0,656.3 L 437.6,662.1 L 427.8,662.7 L 420.0,660.2 L 414.5,657.3 Z" />
<path class="l" d="M 420.0,660.2 L 420.4,651.8 L 427.8,649.1 L 436.6,651.0 L 445.0,649.5 M 420.4,651.8 L 414.5,647.9" />
<ellipse class="t" cx="422.9" cy="649.1" rx="2.7" ry="1.8" style="stroke-width:2"/>
<ellipse class="wt" cx="435.6" cy="658.2" rx="5.5" ry="3.3" />
<ellipse class="t" cx="435.6" cy="658.2" rx="2.5" ry="1.6" style="stroke-width:1.6"/>
<path class="w" d="M 464.9,618.4 L 471.8,613.5 L 486.4,612.5 L 495.2,618.4 L 495.8,627.2 L 488.4,633.0 L 478.6,633.6 L 470.8,631.1 L 465.3,628.2 Z" />
<path class="l" d="M 470.8,631.1 L 471.2,622.7 L 478.6,620.0 L 487.4,621.9 L 495.8,620.4 M 471.2,622.7 L 465.3,618.8" />
<ellipse class="t" cx="473.7" cy="620.0" rx="2.7" ry="1.8" style="stroke-width:2"/>
<ellipse class="wt" cx="486.4" cy="629.1" rx="5.5" ry="3.3" />
<ellipse class="t" cx="486.4" cy="629.1" rx="2.5" ry="1.6" style="stroke-width:1.6"/>
<path class="w" d="M 515.7,589.3 L 522.5,584.4 L 537.2,583.4 L 546.0,589.3 L 546.6,598.1 L 539.1,603.9 L 529.4,604.5 L 521.6,602.0 L 516.1,599.1 Z" />
<path class="l" d="M 521.6,602.0 L 522.0,593.6 L 529.4,590.9 L 538.2,592.8 L 546.6,591.2 M 522.0,593.6 L 516.1,589.7" />
<ellipse class="t" cx="524.5" cy="590.9" rx="2.7" ry="1.8" style="stroke-width:2"/>
<ellipse class="wt" cx="537.2" cy="600.0" rx="5.5" ry="3.3" />
<ellipse class="t" cx="537.2" cy="600.0" rx="2.5" ry="1.6" style="stroke-width:1.6"/>
<path class="w" d="M 566.5,560.2 L 573.3,555.3 L 588.0,554.3 L 596.8,560.2 L 597.3,569.0 L 589.9,574.8 L 580.2,575.4 L 572.3,572.9 L 566.9,570.0 Z" />
<path class="l" d="M 572.3,572.9 L 572.7,564.5 L 580.2,561.8 L 588.9,563.7 L 597.3,562.1 M 572.7,564.5 L 566.9,560.6" />
<ellipse class="t" cx="575.3" cy="561.8" rx="2.7" ry="1.8" style="stroke-width:2"/>
<ellipse class="wt" cx="588.0" cy="570.9" rx="5.5" ry="3.3" />
<ellipse class="t" cx="588.0" cy="570.9" rx="2.5" ry="1.6" style="stroke-width:1.6"/>
<path class="l" d="M 620.6,579.9 C 627.0,578.4 633.3,574.5 636.0,570.2 C 638.8,565.9 646.6,564.3 651.4,562.7 C 658.3,560.0 661.2,557.3 662.6,554.5" style="stroke-width:3.2"/>
<path class="l" d="M 620.6,579.9 C 627.0,578.4 633.3,574.5 636.0,570.2 C 638.8,565.9 646.6,564.3 651.4,562.7 C 658.3,560.0 661.2,557.3 662.6,554.5" style="stroke:#fff;stroke-width:1"/>
<ellipse class="wt" cx="616.3" cy="581.5" rx="4.3" ry="2.7" style="stroke-width:1.7"/>
<ellipse class="t" cx="616.3" cy="581.5" rx="2.0" ry="1.2" />
<path class="l" d="M 569.8,609.0 C 576.2,607.5 582.5,603.6 585.2,599.3 C 588.0,595.0 595.8,593.4 600.7,591.8 C 607.5,589.1 610.4,586.4 611.8,583.6" style="stroke-width:3.2"/>
<path class="l" d="M 569.8,609.0 C 576.2,607.5 582.5,603.6 585.2,599.3 C 588.0,595.0 595.8,593.4 600.7,591.8 C 607.5,589.1 610.4,586.4 611.8,583.6" style="stroke:#fff;stroke-width:1"/>
<ellipse class="wt" cx="565.5" cy="610.6" rx="4.3" ry="2.7" style="stroke-width:1.7"/>
<ellipse class="t" cx="565.5" cy="610.6" rx="2.0" ry="1.2" />
<path class="l" d="M 519.0,638.1 C 525.5,636.6 531.7,632.7 534.5,628.4 C 537.2,624.1 545.0,622.5 549.9,620.9 C 556.7,618.2 559.6,615.5 561.0,612.7" style="stroke-width:3.2"/>
<path class="l" d="M 519.0,638.1 C 525.5,636.6 531.7,632.7 534.5,628.4 C 537.2,624.1 545.0,622.5 549.9,620.9 C 556.7,618.2 559.6,615.5 561.0,612.7" style="stroke:#fff;stroke-width:1"/>
<ellipse class="wt" cx="514.7" cy="639.7" rx="4.3" ry="2.7" style="stroke-width:1.7"/>
<ellipse class="t" cx="514.7" cy="639.7" rx="2.0" ry="1.2" />
<path class="l" d="M 468.2,667.2 C 474.7,665.7 480.9,661.8 483.7,657.5 C 486.4,653.2 494.2,651.6 499.1,650.0 C 505.9,647.3 508.9,644.6 510.2,641.8" style="stroke-width:3.2"/>
<path class="l" d="M 468.2,667.2 C 474.7,665.7 480.9,661.8 483.7,657.5 C 486.4,653.2 494.2,651.6 499.1,650.0 C 505.9,647.3 508.9,644.6 510.2,641.8" style="stroke:#fff;stroke-width:1"/>
<ellipse class="wt" cx="463.9" cy="668.8" rx="4.3" ry="2.7" style="stroke-width:1.7"/>
<ellipse class="t" cx="463.9" cy="668.8" rx="2.0" ry="1.2" />
<path class="l" d="M 417.5,696.3 C 423.9,694.8 430.2,690.9 432.9,686.6 C 435.6,682.3 443.4,680.7 448.3,679.1 C 455.2,676.4 458.1,673.7 459.5,670.9" style="stroke-width:3.2"/>
<path class="l" d="M 417.5,696.3 C 423.9,694.8 430.2,690.9 432.9,686.6 C 435.6,682.3 443.4,680.7 448.3,679.1 C 455.2,676.4 458.1,673.7 459.5,670.9" style="stroke:#fff;stroke-width:1"/>
<ellipse class="wt" cx="413.2" cy="697.9" rx="4.3" ry="2.7" style="stroke-width:1.7"/>
<ellipse class="t" cx="413.2" cy="697.9" rx="2.0" ry="1.2" />
<path class="l" d="M 366.7,725.4 C 373.1,723.9 379.4,720.0 382.1,715.7 C 384.8,711.4 392.7,709.8 397.5,708.2 C 404.4,705.5 407.3,702.8 408.7,700.0" style="stroke-width:3.2"/>
<path class="l" d="M 366.7,725.4 C 373.1,723.9 379.4,720.0 382.1,715.7 C 384.8,711.4 392.7,709.8 397.5,708.2 C 404.4,705.5 407.3,702.8 408.7,700.0" style="stroke:#fff;stroke-width:1"/>
<ellipse class="wt" cx="362.4" cy="727.0" rx="4.3" ry="2.7" style="stroke-width:1.7"/>
<ellipse class="t" cx="362.4" cy="727.0" rx="2.0" ry="1.2" />
<path class="w" d="M 614.3,583.8 L 623.1,583.8 L 623.1,594.6 L 614.3,594.6 Z" />
<path class="w" d="M 637.6,572.1 L 637.6,593.2 Q 645.0,597.5 652.4,589.7 L 652.4,572.1 Z" />
<ellipse class="w" cx="645.0" cy="572.1" rx="7.4" ry="4.3" />
<ellipse class="t" cx="645.0" cy="572.5" rx="5.1" ry="2.7" style="stroke-width:2"/>
<path class="w" d="M 622.9,590.7 L 622.9,603.8 Q 630.0,607.3 637.0,601.8 L 637.0,590.7 Z" />
<ellipse class="w" cx="630.0" cy="590.7" rx="7.0" ry="3.9" />
<ellipse class="t" cx="630.0" cy="591.1" rx="4.7" ry="2.3" style="stroke-width:2"/>
<path class="t" d="M 663.8,573.7 L 667.1,572.1 L 672.9,578.9 L 669.6,580.9 Z M 666.5,575.0 L 670.4,578.9" style="stroke-width:1.6"/>
<path class="l" d="M 656.3,584.8 L 656.3,590.7 Q 658.3,592.6 660.6,590.7 L 660.6,585.8" />
<path class="l" d="M 638.8,595.2 L 638.8,603.4 M 646.6,593.6 L 646.6,599.5 M 653.4,569.2 L 658.3,566.2 L 658.3,572.1" />
<path class="w" d="M 563.6,612.9 L 572.3,612.9 L 572.3,623.7 L 563.6,623.7 Z" />
<path class="w" d="M 586.8,601.2 L 586.8,622.3 Q 594.2,626.6 601.6,618.8 L 601.6,601.2 Z" />
<ellipse class="w" cx="594.2" cy="601.2" rx="7.4" ry="4.3" />
<ellipse class="t" cx="594.2" cy="601.6" rx="5.1" ry="2.7" style="stroke-width:2"/>
<path class="w" d="M 572.1,619.8 L 572.1,632.9 Q 579.2,636.4 586.2,630.9 L 586.2,619.8 Z" />
<ellipse class="w" cx="579.2" cy="619.8" rx="7.0" ry="3.9" />
<ellipse class="t" cx="579.2" cy="620.2" rx="4.7" ry="2.3" style="stroke-width:2"/>
<path class="t" d="M 613.0,602.8 L 616.3,601.2 L 622.1,608.0 L 618.8,610.0 Z M 615.7,604.1 L 619.6,608.0" style="stroke-width:1.6"/>
<path class="l" d="M 605.5,613.9 L 605.5,619.8 Q 607.5,621.7 609.8,619.8 L 609.8,614.9" />
<path class="l" d="M 588.0,624.3 L 588.0,632.5 M 595.8,622.7 L 595.8,628.6 M 602.6,598.3 L 607.5,595.4 L 607.5,601.2" />
<path class="w" d="M 512.8,642.0 L 521.6,642.0 L 521.6,652.8 L 512.8,652.8 Z" />
<path class="w" d="M 536.0,630.3 L 536.0,651.4 Q 543.4,655.7 550.9,647.9 L 550.9,630.3 Z" />
<ellipse class="w" cx="543.4" cy="630.3" rx="7.4" ry="4.3" />
<ellipse class="t" cx="543.4" cy="630.7" rx="5.1" ry="2.7" style="stroke-width:2"/>
<path class="w" d="M 521.4,648.9 L 521.4,662.0 Q 528.4,665.5 535.4,660.0 L 535.4,648.9 Z" />
<ellipse class="w" cx="528.4" cy="648.9" rx="7.0" ry="3.9" />
<ellipse class="t" cx="528.4" cy="649.3" rx="4.7" ry="2.3" style="stroke-width:2"/>
<path class="t" d="M 562.2,631.9 L 565.5,630.3 L 571.4,637.1 L 568.0,639.1 Z M 564.9,633.2 L 568.8,637.1" style="stroke-width:1.6"/>
<path class="l" d="M 554.8,643.0 L 554.8,648.9 Q 556.7,650.8 559.1,648.9 L 559.1,644.0" />
<path class="l" d="M 537.2,653.4 L 537.2,661.6 M 545.0,651.8 L 545.0,657.7 M 551.8,627.4 L 556.7,624.5 L 556.7,630.3" />
<path class="w" d="M 462.0,671.1 L 470.8,671.1 L 470.8,681.9 L 462.0,681.9 Z" />
<path class="w" d="M 485.2,659.4 L 485.2,680.5 Q 492.7,684.8 500.1,677.0 L 500.1,659.4 Z" />
<ellipse class="w" cx="492.7" cy="659.4" rx="7.4" ry="4.3" />
<ellipse class="t" cx="492.7" cy="659.8" rx="5.1" ry="2.7" style="stroke-width:2"/>
<path class="w" d="M 470.6,678.0 L 470.6,691.1 Q 477.6,694.6 484.6,689.1 L 484.6,678.0 Z" />
<ellipse class="w" cx="477.6" cy="678.0" rx="7.0" ry="3.9" />
<ellipse class="t" cx="477.6" cy="678.4" rx="4.7" ry="2.3" style="stroke-width:2"/>
<path class="t" d="M 511.4,661.0 L 514.7,659.4 L 520.6,666.2 L 517.3,668.2 Z M 514.1,662.3 L 518.0,666.2" style="stroke-width:1.6"/>
<path class="l" d="M 504.0,672.1 L 504.0,678.0 Q 505.9,679.9 508.3,678.0 L 508.3,673.1" />
<path class="l" d="M 486.4,682.5 L 486.4,690.7 M 494.2,680.9 L 494.2,686.8 M 501.1,656.5 L 505.9,653.6 L 505.9,659.4" />
<path class="w" d="M 411.2,700.2 L 420.0,700.2 L 420.0,711.0 L 411.2,711.0 Z" />
<path class="w" d="M 434.5,688.5 L 434.5,709.6 Q 441.9,713.9 449.3,706.1 L 449.3,688.5 Z" />
<ellipse class="w" cx="441.9" cy="688.5" rx="7.4" ry="4.3" />
<ellipse class="t" cx="441.9" cy="688.9" rx="5.1" ry="2.7" style="stroke-width:2"/>
<path class="w" d="M 419.8,707.1 L 419.8,720.2 Q 426.8,723.7 433.9,718.2 L 433.9,707.1 Z" />
<ellipse class="w" cx="426.8" cy="707.1" rx="7.0" ry="3.9" />
<ellipse class="t" cx="426.8" cy="707.5" rx="4.7" ry="2.3" style="stroke-width:2"/>
<path class="t" d="M 460.6,690.1 L 463.9,688.5 L 469.8,695.4 L 466.5,697.3 Z M 463.4,691.4 L 467.3,695.4" style="stroke-width:1.6"/>
<path class="l" d="M 453.2,701.2 L 453.2,707.1 Q 455.2,709.0 457.5,707.1 L 457.5,702.2" />
<path class="l" d="M 435.6,711.6 L 435.6,719.8 M 443.4,710.0 L 443.4,715.9 M 450.3,685.6 L 455.2,682.7 L 455.2,688.5" />
<path class="w" d="M 360.4,729.3 L 369.2,729.3 L 369.2,740.1 L 360.4,740.1 Z" />
<path class="w" d="M 383.7,717.6 L 383.7,738.7 Q 391.1,743.0 398.5,735.2 L 398.5,717.6 Z" />
<ellipse class="w" cx="391.1" cy="717.6" rx="7.4" ry="4.3" />
<ellipse class="t" cx="391.1" cy="718.0" rx="5.1" ry="2.7" style="stroke-width:2"/>
<path class="w" d="M 369.0,736.2 L 369.0,749.3 Q 376.1,752.8 383.1,747.3 L 383.1,736.2 Z" />
<ellipse class="w" cx="376.1" cy="736.2" rx="7.0" ry="3.9" />
<ellipse class="t" cx="376.1" cy="736.6" rx="4.7" ry="2.3" style="stroke-width:2"/>
<path class="t" d="M 409.8,719.2 L 413.2,717.6 L 419.0,724.5 L 415.7,726.4 Z M 412.6,720.5 L 416.5,724.5" style="stroke-width:1.6"/>
<path class="l" d="M 402.4,730.3 L 402.4,736.2 Q 404.4,738.1 406.7,736.2 L 406.7,731.3" />
<path class="l" d="M 384.8,740.7 L 384.8,748.9 M 392.7,739.1 L 392.7,745.0 M 399.5,714.7 L 404.4,711.8 L 404.4,717.6" />
<path class="l" d="M 392.7,743.2 L 679.8,578.6" style="stroke-width:1.6" stroke-dasharray="2.2 0.9"/>
<path class="l" d="M 393.4,745.7 L 680.5,581.1" />
<path class="w" d="M 403.6,736.2 Q 404.6,730.9 408.9,730.3 Q 412.4,730.9 412.0,733.8 L 412.4,737.3 Q 409.5,739.7 406.5,738.1 Z" />
<ellipse class="t" cx="408.9" cy="733.8" rx="1.6" ry="2.0" />
<path class="w" d="M 453.3,707.9 Q 454.3,702.6 458.6,702.0 Q 462.1,702.6 461.7,705.5 L 462.1,709.0 Q 459.2,711.4 456.2,709.8 Z" />
<ellipse class="t" cx="458.6" cy="705.5" rx="1.6" ry="2.0" />
<path class="w" d="M 503.0,679.5 Q 504.0,674.3 508.3,673.7 Q 511.8,674.3 511.4,677.2 L 511.8,680.7 Q 508.9,683.0 505.9,681.5 Z" />
<ellipse class="t" cx="508.3" cy="677.2" rx="1.6" ry="2.0" />
<path class="w" d="M 552.7,651.2 Q 553.7,645.9 558.0,645.4 Q 561.5,645.9 561.1,648.9 L 561.5,652.4 Q 558.6,654.7 555.6,653.2 Z" />
<ellipse class="t" cx="558.0" cy="648.9" rx="1.6" ry="2.0" />
<path class="w" d="M 602.4,622.9 Q 603.4,617.6 607.7,617.0 Q 611.2,617.6 610.8,620.5 L 611.2,624.1 Q 608.3,626.4 605.4,624.8 Z" />
<ellipse class="t" cx="607.7" cy="620.5" rx="1.6" ry="2.0" />
<path class="w" d="M 652.1,594.6 Q 653.1,589.3 657.4,588.7 Q 660.9,589.3 660.5,592.2 L 660.9,595.7 Q 658.0,598.1 655.1,596.5 Z" />
<ellipse class="t" cx="657.4" cy="592.2" rx="1.6" ry="2.0" />
<path class="l" d="M402.6,776.8 L406.5,778.4 L412.0,773.5 L426.1,765.7 L429.2,767.6 L428.9,763.7 L432.4,759.4 L452.3,748.5 L456.2,750.0 L461.7,745.2 L475.8,737.3 L478.9,739.3 L478.6,735.4 L482.1,731.1 L502.0,720.2 L505.9,721.7 L511.4,716.8 L525.5,709.0 L528.6,711.0 L528.3,707.1 L531.8,702.8 L551.7,691.8 L555.6,693.4 L561.1,688.5 L575.2,680.7 L578.3,682.7 L578.0,678.8 L581.5,674.5 L601.4,663.5 L605.4,665.1 L610.8,660.2 L624.9,652.4 L628.0,654.3 L627.7,650.4 L631.2,646.1 L651.2,635.2 L655.1,636.8 L660.5,631.9 L674.6,624.1 L677.7,626.0" />
<path class="l" d="M 400.3,747.9 L 418.2,741.6 L 419.2,761.2 L 400.7,770.9 Z" />
<path class="l" d="M 406.5,751.0 L 417.7,757.7 M 401.4,761.6 L 408.1,764.7 L 417.7,757.7" />
<ellipse class="l" cx="437.4" cy="744.6" rx="5.3" ry="9.0" transform="rotate(27 437.4 744.6)" />
<ellipse class="t" cx="442.7" cy="733.4" rx="1.6" ry="2.0" transform="rotate(20 442.7 733.4)" style="stroke-width:1.6"/>
<ellipse class="t" cx="428.0" cy="745.5" rx="1.6" ry="2.0" transform="rotate(20 428.0 745.5)" style="stroke-width:1.6"/>
<ellipse class="t" cx="416.3" cy="762.1" rx="1.8" ry="2.2" transform="rotate(20 416.3 762.1)" style="stroke-width:1.6"/>
<ellipse class="t" cx="408.5" cy="774.5" rx="1.6" ry="2.0" transform="rotate(20 408.5 774.5)" style="stroke-width:1.6"/>
<ellipse class="t" cx="430.0" cy="762.1" rx="1.6" ry="2.0" transform="rotate(20 430.0 762.1)" style="stroke-width:1.6"/>
<path class="t" d="M 441.3,735.8 L 440.1,737.3" />
<path class="l" d="M 450.0,719.6 L 467.9,713.3 L 468.9,732.9 L 450.4,742.6 Z" />
<path class="l" d="M 456.2,722.7 L 467.4,729.3 M 451.2,733.2 L 457.8,736.4 L 467.4,729.3" />
<ellipse class="l" cx="487.1" cy="716.2" rx="5.3" ry="9.0" transform="rotate(27 487.1 716.2)" />
<ellipse class="t" cx="492.4" cy="705.1" rx="1.6" ry="2.0" transform="rotate(20 492.4 705.1)" style="stroke-width:1.6"/>
<ellipse class="t" cx="477.7" cy="717.2" rx="1.6" ry="2.0" transform="rotate(20 477.7 717.2)" style="stroke-width:1.6"/>
<ellipse class="t" cx="466.0" cy="733.8" rx="1.8" ry="2.2" transform="rotate(20 466.0 733.8)" style="stroke-width:1.6"/>
<ellipse class="t" cx="458.2" cy="746.1" rx="1.6" ry="2.0" transform="rotate(20 458.2 746.1)" style="stroke-width:1.6"/>
<ellipse class="t" cx="479.7" cy="733.8" rx="1.6" ry="2.0" transform="rotate(20 479.7 733.8)" style="stroke-width:1.6"/>
<path class="t" d="M 491.0,707.5 L 489.8,709.0" />
<path class="l" d="M 499.7,691.2 L 517.7,685.0 L 518.6,704.5 L 500.1,714.3 Z" />
<path class="l" d="M 505.9,694.4 L 517.1,701.0 M 500.9,704.9 L 507.5,708.0 L 517.1,701.0" />
<ellipse class="l" cx="536.8" cy="687.9" rx="5.3" ry="9.0" transform="rotate(27 536.8 687.9)" />
<ellipse class="t" cx="542.1" cy="676.8" rx="1.6" ry="2.0" transform="rotate(20 542.1 676.8)" style="stroke-width:1.6"/>
<ellipse class="t" cx="527.4" cy="688.9" rx="1.6" ry="2.0" transform="rotate(20 527.4 688.9)" style="stroke-width:1.6"/>
<ellipse class="t" cx="515.7" cy="705.5" rx="1.8" ry="2.2" transform="rotate(20 515.7 705.5)" style="stroke-width:1.6"/>
<ellipse class="t" cx="507.9" cy="717.8" rx="1.6" ry="2.0" transform="rotate(20 507.9 717.8)" style="stroke-width:1.6"/>
<ellipse class="t" cx="529.4" cy="705.5" rx="1.6" ry="2.0" transform="rotate(20 529.4 705.5)" style="stroke-width:1.6"/>
<path class="t" d="M 540.7,679.1 L 539.5,680.7" />
<path class="l" d="M 549.4,662.9 L 567.4,656.7 L 568.3,676.2 L 549.8,686.0 Z" />
<path class="l" d="M 555.6,666.1 L 566.8,672.7 M 550.6,676.6 L 557.2,679.7 L 566.8,672.7" />
<ellipse class="l" cx="586.5" cy="659.6" rx="5.3" ry="9.0" transform="rotate(27 586.5 659.6)" />
<ellipse class="t" cx="591.8" cy="648.5" rx="1.6" ry="2.0" transform="rotate(20 591.8 648.5)" style="stroke-width:1.6"/>
<ellipse class="t" cx="577.1" cy="660.6" rx="1.6" ry="2.0" transform="rotate(20 577.1 660.6)" style="stroke-width:1.6"/>
<ellipse class="t" cx="565.4" cy="677.2" rx="1.8" ry="2.2" transform="rotate(20 565.4 677.2)" style="stroke-width:1.6"/>
<ellipse class="t" cx="557.6" cy="689.5" rx="1.6" ry="2.0" transform="rotate(20 557.6 689.5)" style="stroke-width:1.6"/>
<ellipse class="t" cx="579.1" cy="677.2" rx="1.6" ry="2.0" transform="rotate(20 579.1 677.2)" style="stroke-width:1.6"/>
<path class="t" d="M 590.4,650.8 L 589.2,652.4" />
<path class="l" d="M 599.1,634.6 L 617.1,628.4 L 618.0,647.9 L 599.5,657.7 Z" />
<path class="l" d="M 605.4,637.7 L 616.5,644.4 M 600.3,648.3 L 606.9,651.4 L 616.5,644.4" />
<ellipse class="l" cx="636.2" cy="631.3" rx="5.3" ry="9.0" transform="rotate(27 636.2 631.3)" />
<ellipse class="t" cx="641.5" cy="620.2" rx="1.6" ry="2.0" transform="rotate(20 641.5 620.2)" style="stroke-width:1.6"/>
<ellipse class="t" cx="626.8" cy="632.3" rx="1.6" ry="2.0" transform="rotate(20 626.8 632.3)" style="stroke-width:1.6"/>
<ellipse class="t" cx="615.1" cy="648.9" rx="1.8" ry="2.2" transform="rotate(20 615.1 648.9)" style="stroke-width:1.6"/>
<ellipse class="t" cx="607.3" cy="661.2" rx="1.6" ry="2.0" transform="rotate(20 607.3 661.2)" style="stroke-width:1.6"/>
<ellipse class="t" cx="628.8" cy="648.9" rx="1.6" ry="2.0" transform="rotate(20 628.8 648.9)" style="stroke-width:1.6"/>
<path class="t" d="M 640.1,622.5 L 638.9,624.1" />
<path class="l" d="M 648.8,606.3 L 666.8,600.0 L 667.8,619.6 L 649.2,629.3 Z" />
<path class="l" d="M 655.1,609.4 L 666.2,616.1 M 650.0,620.0 L 656.6,623.1 L 666.2,616.1" />
<ellipse class="l" cx="685.9" cy="603.0" rx="5.3" ry="9.0" transform="rotate(27 685.9 603.0)" />
<ellipse class="t" cx="691.2" cy="591.8" rx="1.6" ry="2.0" transform="rotate(20 691.2 591.8)" style="stroke-width:1.6"/>
<ellipse class="t" cx="676.5" cy="603.9" rx="1.6" ry="2.0" transform="rotate(20 676.5 603.9)" style="stroke-width:1.6"/>
<ellipse class="t" cx="664.8" cy="620.5" rx="1.8" ry="2.2" transform="rotate(20 664.8 620.5)" style="stroke-width:1.6"/>
<ellipse class="t" cx="657.0" cy="632.9" rx="1.6" ry="2.0" transform="rotate(20 657.0 632.9)" style="stroke-width:1.6"/>
<ellipse class="t" cx="678.5" cy="620.5" rx="1.6" ry="2.0" transform="rotate(20 678.5 620.5)" style="stroke-width:1.6"/>
<path class="t" d="M 689.8,594.2 L 688.7,595.7" />
<!-- 55_head_front -->
<!-- frame J: region [255,650]-[455,810], scale 5.12 : head front-left end -->
<g transform="translate(255,650) scale(0.1953125)">
 <g class="l">
  <!-- hide what is behind the front block -->
  <path class="w" style="stroke:none" d="M278,428 L350,380 L430,385 L560,455 L700,468 L700,480 L545,580 L545,700 L470,668 L292,535 Z"/>
  <path d="M52,215 L90,198 L130,205 L165,190 L185,165 L180,135 L215,100 L245,92 L262,110 L300,120 L350,85 L345,45 L365,25 L385,20"/>
  <path d="M52,215 L58,262 L92,300 L100,330 L128,345 L150,365 L195,378 L232,360 L240,325 L300,318 L335,335"/>
  <path d="M110,228 L122,250 L150,240" />
  <path d="M168,205 Q120,240 128,300 Q140,350 195,372"/>
  <path style="stroke-width:4.5" d="M148,268 Q150,322 205,350"/>
  <path d="M160,262 Q165,318 215,338" class="t"/>
  <path d="M240,195 Q225,250 262,278 L320,280 L350,262"/>
  <path d="M165,208 L235,180 L285,178 L310,186 L322,232 L345,262"/>
  <path d="M235,182 Q250,240 300,262"/>
  <path class="w" d="M350,262 L395,240 L440,262 L440,335 L395,345 L350,330 Z"/>
  <path d="M350,262 L395,282 L440,262 M395,282 V345"/>
  <path style="stroke-width:3.2" d="M335,335 C380,330 450,350 535,386"/>
  <path style="stroke:#fff;stroke-width:1" d="M335,335 C380,330 450,350 535,386"/>
  <!-- lower-left bracket -->
  <path d="M95,400 L108,385 L125,392 L135,430 L130,470 L140,540 L150,585 L178,598 L185,550 L240,520"/>
  <path d="M100,335 L95,400 M150,460 L270,500 M150,460 L150,500 L255,555 M178,598 L230,570 L245,600 L250,640 L280,655 L300,640 L300,560"/>
  <path d="M128,345 L175,420 L278,470 M175,420 L180,470"/>
  <!-- front block -->
  <path d="M278,428 L350,380 L430,385 M278,428 L545,575 L700,468"/>
  <path d="M278,428 L292,535 L345,572 L345,620 L360,632 L400,612 L412,650 L415,740 L440,758 L468,742 L470,668 L545,700"/>
  <path d="M345,572 L412,610 M440,660 V756 M300,560 L345,585"/>
  <path style="stroke-width:1.8" d="M545,575 V700"/>
  <!-- side face front -->
  <path d="M545,700 L560,715 L600,720 L640,692 L662,702 L690,722 L722,700 L745,668 L790,650 L800,660"/>
  <path d="M700,468 L712,452 L735,455 L760,432 L775,400 L790,405 L800,425"/>
  <ellipse cx="615" cy="650" rx="22" ry="36" transform="rotate(25 615 650)"/>
 </g>
 <g class="t" style="stroke-width:1.6">
  <ellipse cx="95" cy="210" rx="11" ry="8"/>
  <ellipse cx="203" cy="148" rx="10" ry="7"/>
  <ellipse cx="118" cy="420" rx="8" ry="11"/>
  <ellipse cx="160" cy="565" rx="8" ry="11"/>
  <ellipse cx="268" cy="630" rx="8" ry="11"/>
  <ellipse cx="437" cy="722" rx="8" ry="11"/>
  <ellipse cx="305" cy="482" rx="8" ry="11"/>
  <ellipse cx="510" cy="628" rx="9" ry="12"/>
  <ellipse cx="720" cy="575" rx="9" ry="11"/>
  <ellipse cx="700" cy="680" rx="9" ry="11"/>
  <ellipse cx="770" cy="645" rx="9" ry="11"/>
  <ellipse cx="710" cy="485" rx="9" ry="11"/>
  <ellipse cx="780" cy="440" rx="9" ry="11"/>
  <ellipse cx="500" cy="440" rx="11" ry="8"/>
  <ellipse cx="415" cy="492" rx="9" ry="7"/>
  <ellipse cx="610" cy="500" rx="11" ry="8"/>
  <ellipse cx="525" cy="550" rx="10" ry="7"/>
  <ellipse cx="310" cy="328" rx="12" ry="8"/>
 </g>
 <g class="l">
  <ellipse cx="272" cy="185" rx="10" ry="7" style="stroke-width:2.2"/>
  <ellipse cx="405" cy="262" rx="10" ry="7" style="stroke-width:2.5"/>
  <ellipse cx="400" cy="430" rx="62" ry="38" transform="rotate(5 400 430)"/>
  <ellipse cx="400" cy="432" rx="36" ry="22" style="stroke-width:2.6"/>
  <ellipse cx="402" cy="436" rx="20" ry="11"/>
  <ellipse cx="520" cy="497" rx="62" ry="38" transform="rotate(5 520 497)"/>
  <ellipse cx="520" cy="499" rx="36" ry="22" style="stroke-width:2.6"/>
  <ellipse cx="522" cy="503" rx="20" ry="11"/>
 </g>
</g>

<!-- 56_head_right -->
<!-- frame K: region [560,480]-[760,640], scale 5.12 : head right end -->
<g transform="translate(560,480) scale(0.1953125)">
 <g class="l">
  <path d="M620,492 L700,490 L745,505 L765,520 L768,540 L745,650 L700,690 L560,770 L490,805 L450,790" style="stroke-width:1.7"/>
  <path d="M405,195 L420,178 L470,173 L492,205 L650,298 L682,330 L690,352 V480"/>
  <path d="M400,215 L610,345 M400,215 L405,195 M690,352 L660,375 L640,372"/>
  <path d="M640,372 L560,395 M590,400 L600,455 L640,470 L690,480"/>
  <path d="M230,75 Q240,50 270,50 Q300,55 298,80 L290,100 M230,75 L235,95 L140,140"/>
  <path d="M290,100 L330,130 M235,95 L240,150"/>
  <path style="stroke-width:3.4" d="M238,165 Q225,235 292,268"/>
  <path d="M255,160 Q250,220 300,250" />
  <path style="stroke-width:3" d="M335,135 Q345,190 388,215"/>
  <path d="M300,110 Q300,170 350,210 L395,230"/>
  <!-- wave end -->
  <path style="stroke-width:3.2" d="M270,520 C310,500 330,470 360,460 C400,450 450,440 500,410 M540,395 C570,380 600,360 625,350"/>
  <path style="stroke:#fff;stroke-width:1" d="M270,520 C310,500 330,470 360,460 C400,450 450,440 500,410 M540,395 C570,380 600,360 625,350"/>
  <path d="M570,430 L575,455 L615,470 M545,480 Q555,500 580,495"/>
 </g>
 <g class="t" style="stroke-width:1.6">
  <ellipse class="wt" cx="452" cy="182" rx="18" ry="12"/><ellipse cx="452" cy="182" rx="8" ry="5"/>
  <ellipse class="wt" cx="645" cy="345" rx="30" ry="19"/><ellipse cx="645" cy="345" rx="15" ry="9"/>
  <ellipse class="wt" cx="430" cy="300" rx="28" ry="17"/><ellipse cx="430" cy="300" rx="13" ry="8"/>
  <ellipse class="wt" cx="518" cy="400" rx="24" ry="15"/><ellipse cx="518" cy="400" rx="11" ry="7"/>
  <ellipse cx="265" cy="70" rx="20" ry="13"/><ellipse cx="265" cy="70" rx="9" ry="6"/>
  <ellipse cx="752" cy="528" rx="9" ry="12"/>
  <ellipse cx="728" cy="635" rx="9" ry="12"/>
  <ellipse cx="598" cy="715" rx="9" ry="12"/>
  <ellipse cx="665" cy="555" rx="8" ry="10"/>
  <ellipse cx="495" cy="775" rx="9" ry="12"/>
  <ellipse cx="150" cy="130" rx="10" ry="7"/>
 </g>
</g>

<!-- 60_seal -->
<!-- frame M: region [680,400]-[880,560], scale 5.12 : seal 7 -->
<g transform="translate(680,400) scale(0.1953125)">
 <g class="l">
  <g transform="rotate(-30 705 275)">
   <ellipse class="w" cx="705" cy="275" rx="78" ry="125" style="stroke-width:1.7"/>
   <ellipse cx="695" cy="279" rx="68" ry="112"/>
   <ellipse cx="693" cy="281" rx="52" ry="90" style="stroke-width:1.7"/>
   <ellipse cx="690" cy="283" rx="28" ry="50"/>
   <path d="M672,300 Q690,285 712,300 M662,270 Q690,255 715,280"/>
  </g>
  <path d="M612,332 L530,368 M505,380 L480,391 M455,402 L320,492 M245,545 L15,670"/>
  <path d="M752,388 L800,490"/>
 </g>
</g>
<g class="l"><path d="M851,366 L771,458.5 M766.5,463.5 L762,468.5 M757.5,473.5 L675.5,571.5"/></g>

<!-- 65_bottom_parts -->
<!-- frame N: region [540,620]-[740,780], scale 5.12 -->
<g transform="translate(540,620) scale(0.1953125)">
 <g class="l">
  <path d="M490,55 L600,118 M618,128 L632,136 M650,146 L705,178"/>
  <g transform="rotate(25 755 205)">
   <ellipse class="w" cx="755" cy="205" rx="42" ry="53" style="stroke-width:1.8"/>
   <ellipse cx="760" cy="205" rx="30" ry="42"/>
   <path d="M757,160 V250"/>
  </g>
  <path d="M668,305 L722,240"/>
 </g>
</g>
<!-- frame O: region [560,730]-[760,890], scale 5.12 : part 171 -->
<g transform="translate(560,730) scale(0.1953125)">
 <g class="l">
  <path d="M455,222 L515,180"/>
  <path class="w" d="M358,214 Q362,204 378,206 L400,218 L395,245 L370,238 Q355,230 358,214 Z"/>
  <path class="w" d="M400,212 L478,243 L446,302 L390,265 Q385,235 400,212 Z"/>
  <ellipse class="w" cx="462" cy="272" rx="23" ry="32" transform="rotate(25 462 272)"/>
  <ellipse cx="462" cy="274" rx="11" ry="17" transform="rotate(25 462 274)" style="stroke-width:2.4"/>
 </g>
</g>
<g class="l">
 <path d="M519.6,707 L560,730.5 M566,734 L571,737 M577,740.5 L628,769.6"/>
</g>

<!-- 66_bottom_left -->
<g class="l">
 <!-- axis lines -->
 <path d="M374.8,793 V803 M374.8,807 V811 M374.8,815 V828"/>
 <path style="stroke-width:1.8" d="M400.8,786.5 V808"/>
 <path d="M446.8,760.5 V776 M446.8,780 V784 M446.8,788 V795"/>
 <!-- leaders -->
 <path d="M455.5,800.2 L478.8,793.9"/>
 <path d="M409.9,819.3 L420,827"/>
 <path d="M339.8,848 L362.5,832.4"/>
 <path d="M312,805.6 L334.4,782.4"/>
 <path d="M632.3,464.8 L657.7,470.6"/>
 <!-- 5(A) -->
 <path class="w" d="M361.8,827 V834.5 Q363,841 374.8,841.5 Q386.6,841 387.8,834.5 V827 Z"/>
 <ellipse class="w" cx="374.8" cy="827.5" rx="13" ry="6.8" style="stroke-width:1.8"/>
 <ellipse cx="374.8" cy="828.5" rx="9.5" ry="4.6" style="stroke-width:1.6"/>
 <ellipse cx="374.8" cy="829.5" rx="6" ry="2.6"/>
 <path d="M362,832 Q374.8,841 387.6,832" style="stroke-width:1.8"/>
 <!-- 5(B) -->
 <path class="w" d="M387.8,807.5 V815 Q389,821.5 400.8,822 Q412.6,821.5 413.8,815 V807.5 Z"/>
 <ellipse class="w" cx="400.8" cy="808" rx="13" ry="6.8" style="stroke-width:1.8"/>
 <ellipse cx="400.8" cy="809" rx="9.5" ry="4.6" style="stroke-width:1.6"/>
 <ellipse cx="400.8" cy="810" rx="6" ry="2.6"/>
 <path d="M388,812.5 Q400.8,821.5 413.6,812.5" style="stroke-width:1.8"/>
 <!-- 8(B) plug -->
 <path class="w" d="M438.6,798 V804.5 Q446.8,810 455,804.5 V798 Z"/>
 <ellipse class="w" cx="446.8" cy="798" rx="8.2" ry="3.4"/>
 <!-- 8(A) plug in box -->
 <path class="w" d="M615.4,461.5 V469.5 Q624.2,475 633,469.5 V461.5 Z"/>
 <ellipse class="w" cx="624.2" cy="461.5" rx="8.8" ry="3.6"/>
</g>

<!-- 70_gasket -->
<path class="w" style="stroke-width:1.7" d="M661.1,796.7 L661.6,796.4 L658.6,798.4 L656.7,803.2 L654.7,808.1 L647.9,814.0 L638.1,818.9 L624.5,822.8 L611.2,827.1 L606.3,828.6 L603.3,830.6 L601.4,835.4 L599.4,840.3 L592.6,846.2 L582.8,851.1 L569.2,855.0 L555.9,859.3 L551.0,860.8 L548.0,862.8 L546.1,867.6 L544.1,872.5 L537.3,878.4 L527.5,883.3 L513.9,887.2 L500.6,891.5 L495.7,893.0 L492.7,895.0 L490.8,899.8 L488.8,904.7 L482.0,910.6 L472.2,915.5 L458.6,919.4 L445.3,923.7 L440.4,925.2 L437.4,927.2 L435.5,932.0 L433.8,937.1 L425.9,943.9 L416.2,947.9 L384.9,956.6 L352.1,972.3 L349.8,975.2 L351.3,977.3 L412.3,1012.9 L416.2,1013.3 L424.0,1008.4 L431.8,1012.3 L439.6,1012.3 L449.4,1006.4 L451.5,1007.2 L454.0,1007.8 L460.3,1008.2 L464.8,1006.6 L467.7,1003.3 L469.0,996.5 L506.8,975.0 L509.3,975.6 L515.6,976.0 L520.0,974.4 L523.0,971.1 L524.3,964.3 L562.1,942.8 L564.6,943.4 L570.9,943.8 L575.4,942.2 L578.3,938.9 L579.6,932.1 L617.4,910.6 L619.9,911.2 L626.2,911.6 L630.6,910.0 L633.6,906.7 L634.9,899.9 L672.7,878.4 L675.2,879.0 L681.5,879.4 L686.0,877.8 L688.9,874.5 L690.2,867.7 L727.5,845.9 L733.8,846.9 L741.6,845.2 L745.0,841.2 L744.4,835.0 L749.4,831.9 L777.5,816.6 L778.8,813.9 L777.2,811.2 L768.9,805.3 L765.8,800.9 L759.5,799.1 L755.6,799.8 L737.7,788.9 L737.2,785.0 L733.8,782.7 L727.5,781.9 L725.2,783.4 L711.9,774.1 L707.2,773.3 L702.5,774.4 Z"/>
<path class="l" d="M699.4,780.0 L706.4,776.1 L724.4,786.6 L727.5,790.0 L733.8,790.6 L755.6,803.0 L758.8,806.6 L765.0,807.7 L773.6,812.3 L773.8,814.7 L765.0,819.1 Z"/>
<ellipse class="t" cx="731.1" cy="786.9" rx="2.6" ry="2.0" style="stroke-width:1.6"/>
<ellipse class="t" cx="762.7" cy="804.5" rx="2.6" ry="2.0" style="stroke-width:1.6"/>
<ellipse class="l" cx="425.7" cy="982.8" rx="31.6" ry="18.2" />
<ellipse class="t" cx="421.8" cy="954.5" rx="8.2" ry="5.4" />
<ellipse class="t" cx="421.8" cy="954.5" rx="6.0" ry="3.9" style="stroke-width:1.8"/>
<ellipse class="t" cx="390.9" cy="962.9" rx="5.0" ry="3.3" />
<ellipse class="t" cx="389.0" cy="973.0" rx="5.6" ry="3.6" />
<ellipse class="t" cx="389.0" cy="973.0" rx="3.4" ry="2.1" style="stroke-width:1.8"/>
<ellipse class="t" cx="437.8" cy="957.4" rx="3.0" ry="2.0" />
<ellipse class="t" cx="445.2" cy="962.3" rx="5.6" ry="3.6" />
<ellipse class="t" cx="445.2" cy="962.3" rx="3.4" ry="2.1" style="stroke-width:1.8"/>
<ellipse class="t" cx="460.3" cy="970.7" rx="5.6" ry="3.6" />
<ellipse class="t" cx="460.3" cy="970.7" rx="3.4" ry="2.1" style="stroke-width:1.8"/>
<ellipse class="t" cx="468.7" cy="976.0" rx="3.0" ry="2.0" />
<ellipse class="t" cx="441.7" cy="1003.3" rx="5.6" ry="3.6" />
<ellipse class="t" cx="441.7" cy="1003.3" rx="3.4" ry="2.1" style="stroke-width:1.8"/>
<ellipse class="t" cx="458.9" cy="1002.3" rx="5.2" ry="3.4" />
<ellipse class="t" cx="372.0" cy="977.9" rx="7.4" ry="4.9" />
<ellipse class="t" cx="372.0" cy="977.9" rx="5.2" ry="3.4" style="stroke-width:1.8"/>
<ellipse class="t" cx="381.8" cy="989.6" rx="3.2" ry="2.2" />
<ellipse class="t" cx="405.2" cy="1003.3" rx="5.6" ry="3.6" />
<ellipse class="t" cx="405.2" cy="1003.3" rx="3.4" ry="2.1" style="stroke-width:1.8"/>
<ellipse class="t" cx="413.6" cy="1008.2" rx="3.0" ry="2.0" />
<ellipse class="l" cx="481.0" cy="950.6" rx="31.6" ry="18.2" />
<ellipse class="t" cx="477.1" cy="922.3" rx="8.2" ry="5.4" />
<ellipse class="t" cx="477.1" cy="922.3" rx="6.0" ry="3.9" style="stroke-width:1.8"/>
<ellipse class="t" cx="446.2" cy="930.7" rx="5.0" ry="3.3" />
<ellipse class="t" cx="444.3" cy="940.8" rx="5.6" ry="3.6" />
<ellipse class="t" cx="444.3" cy="940.8" rx="3.4" ry="2.1" style="stroke-width:1.8"/>
<ellipse class="t" cx="493.1" cy="925.2" rx="3.0" ry="2.0" />
<ellipse class="t" cx="500.5" cy="930.1" rx="5.6" ry="3.6" />
<ellipse class="t" cx="500.5" cy="930.1" rx="3.4" ry="2.1" style="stroke-width:1.8"/>
<ellipse class="t" cx="515.6" cy="938.5" rx="5.6" ry="3.6" />
<ellipse class="t" cx="515.6" cy="938.5" rx="3.4" ry="2.1" style="stroke-width:1.8"/>
<ellipse class="t" cx="524.0" cy="943.8" rx="3.0" ry="2.0" />
<ellipse class="t" cx="497.0" cy="971.1" rx="5.6" ry="3.6" />
<ellipse class="t" cx="497.0" cy="971.1" rx="3.4" ry="2.1" style="stroke-width:1.8"/>
<ellipse class="t" cx="514.2" cy="970.1" rx="5.2" ry="3.4" />
<ellipse class="l" cx="536.3" cy="918.4" rx="31.6" ry="18.2" />
<ellipse class="t" cx="532.4" cy="890.1" rx="8.2" ry="5.4" />
<ellipse class="t" cx="532.4" cy="890.1" rx="6.0" ry="3.9" style="stroke-width:1.8"/>
<ellipse class="t" cx="501.5" cy="898.5" rx="5.0" ry="3.3" />
<ellipse class="t" cx="499.6" cy="908.6" rx="5.6" ry="3.6" />
<ellipse class="t" cx="499.6" cy="908.6" rx="3.4" ry="2.1" style="stroke-width:1.8"/>
<ellipse class="t" cx="548.4" cy="893.0" rx="3.0" ry="2.0" />
<ellipse class="t" cx="555.8" cy="897.9" rx="5.6" ry="3.6" />
<ellipse class="t" cx="555.8" cy="897.9" rx="3.4" ry="2.1" style="stroke-width:1.8"/>
<ellipse class="t" cx="570.9" cy="906.3" rx="5.6" ry="3.6" />
<ellipse class="t" cx="570.9" cy="906.3" rx="3.4" ry="2.1" style="stroke-width:1.8"/>
<ellipse class="t" cx="579.3" cy="911.6" rx="3.0" ry="2.0" />
<ellipse class="t" cx="552.3" cy="938.9" rx="5.6" ry="3.6" />
<ellipse class="t" cx="552.3" cy="938.9" rx="3.4" ry="2.1" style="stroke-width:1.8"/>
<ellipse class="t" cx="569.5" cy="937.9" rx="5.2" ry="3.4" />
<ellipse class="l" cx="591.6" cy="886.2" rx="31.6" ry="18.2" />
<ellipse class="t" cx="587.7" cy="857.9" rx="8.2" ry="5.4" />
<ellipse class="t" cx="587.7" cy="857.9" rx="6.0" ry="3.9" style="stroke-width:1.8"/>
<ellipse class="t" cx="556.8" cy="866.3" rx="5.0" ry="3.3" />
<ellipse class="t" cx="554.9" cy="876.4" rx="5.6" ry="3.6" />
<ellipse class="t" cx="554.9" cy="876.4" rx="3.4" ry="2.1" style="stroke-width:1.8"/>
<ellipse class="t" cx="603.7" cy="860.8" rx="3.0" ry="2.0" />
<ellipse class="t" cx="611.1" cy="865.7" rx="5.6" ry="3.6" />
<ellipse class="t" cx="611.1" cy="865.7" rx="3.4" ry="2.1" style="stroke-width:1.8"/>
<ellipse class="t" cx="626.2" cy="874.1" rx="5.6" ry="3.6" />
<ellipse class="t" cx="626.2" cy="874.1" rx="3.4" ry="2.1" style="stroke-width:1.8"/>
<ellipse class="t" cx="634.6" cy="879.4" rx="3.0" ry="2.0" />
<ellipse class="t" cx="607.6" cy="906.7" rx="5.6" ry="3.6" />
<ellipse class="t" cx="607.6" cy="906.7" rx="3.4" ry="2.1" style="stroke-width:1.8"/>
<ellipse class="t" cx="624.8" cy="905.7" rx="5.2" ry="3.4" />
<ellipse class="l" cx="646.9" cy="854.0" rx="31.6" ry="18.2" />
<ellipse class="t" cx="643.0" cy="825.7" rx="8.2" ry="5.4" />
<ellipse class="t" cx="643.0" cy="825.7" rx="6.0" ry="3.9" style="stroke-width:1.8"/>
<ellipse class="t" cx="612.1" cy="834.1" rx="5.0" ry="3.3" />
<ellipse class="t" cx="610.2" cy="844.2" rx="5.6" ry="3.6" />
<ellipse class="t" cx="610.2" cy="844.2" rx="3.4" ry="2.1" style="stroke-width:1.8"/>
<ellipse class="t" cx="659.0" cy="828.6" rx="3.0" ry="2.0" />
<ellipse class="t" cx="666.4" cy="833.5" rx="5.6" ry="3.6" />
<ellipse class="t" cx="666.4" cy="833.5" rx="3.4" ry="2.1" style="stroke-width:1.8"/>
<ellipse class="t" cx="681.5" cy="841.9" rx="5.6" ry="3.6" />
<ellipse class="t" cx="681.5" cy="841.9" rx="3.4" ry="2.1" style="stroke-width:1.8"/>
<ellipse class="t" cx="689.9" cy="847.2" rx="3.0" ry="2.0" />
<ellipse class="t" cx="662.9" cy="874.5" rx="5.6" ry="3.6" />
<ellipse class="t" cx="662.9" cy="874.5" rx="3.4" ry="2.1" style="stroke-width:1.8"/>
<ellipse class="t" cx="680.1" cy="873.5" rx="5.2" ry="3.4" />
<ellipse class="l" cx="702.2" cy="821.8" rx="31.6" ry="18.2" />
<ellipse class="t" cx="698.3" cy="793.5" rx="8.2" ry="5.4" />
<ellipse class="t" cx="698.3" cy="793.5" rx="6.0" ry="3.9" style="stroke-width:1.8"/>
<ellipse class="t" cx="667.4" cy="801.9" rx="5.0" ry="3.3" />
<ellipse class="t" cx="665.5" cy="812.0" rx="5.6" ry="3.6" />
<ellipse class="t" cx="665.5" cy="812.0" rx="3.4" ry="2.1" style="stroke-width:1.8"/>
<ellipse class="t" cx="714.3" cy="796.4" rx="3.0" ry="2.0" />
<ellipse class="t" cx="721.7" cy="801.3" rx="5.6" ry="3.6" />
<ellipse class="t" cx="721.7" cy="801.3" rx="3.4" ry="2.1" style="stroke-width:1.8"/>
<ellipse class="t" cx="736.8" cy="809.7" rx="5.6" ry="3.6" />
<ellipse class="t" cx="736.8" cy="809.7" rx="3.4" ry="2.1" style="stroke-width:1.8"/>
<ellipse class="t" cx="745.2" cy="815.0" rx="3.0" ry="2.0" />
<ellipse class="t" cx="718.2" cy="842.3" rx="5.6" ry="3.6" />
<ellipse class="t" cx="718.2" cy="842.3" rx="3.4" ry="2.1" style="stroke-width:1.8"/>
<ellipse class="t" cx="735.4" cy="841.3" rx="5.2" ry="3.4" />
<path class="l" d="M705.6,859.2 L734.5,888"/>
<!-- 90_text -->
<text x="837.6" y="518.8" font-size="24" textLength="12" lengthAdjust="spacingAndGlyphs" style="fill:#8f2020">7</text>
<text class="lb" x="146.6" y="20.6" font-size="18.9" textLength="56.7" lengthAdjust="spacing" xml:space="preserve">6HE1,</text>
<text class="lb" x="209.9" y="20.6" font-size="18.9" textLength="44.9" lengthAdjust="spacing" xml:space="preserve">6HH1</text>
<text class="lb" x="273.2" y="20.6" font-size="18.9" textLength="40.9" lengthAdjust="spacing" xml:space="preserve">STD,</text>
<text class="lb" x="324.7" y="20.6" font-size="18.9" textLength="44.8" lengthAdjust="spacing" xml:space="preserve">6HH1</text>
<text class="lb" x="386.7" y="20.6" font-size="18.9" textLength="10.5" lengthAdjust="spacing" xml:space="preserve">N</text>
<text class="lb" x="282" y="73" font-size="25.7" textLength="73" lengthAdjust="spacing" xml:space="preserve">120(B)</text>
<text class="lb" x="448" y="65.9" font-size="24.0" textLength="39.7" lengthAdjust="spacing" xml:space="preserve">138</text>
<text class="lb" x="234" y="138" font-size="25.7" textLength="73" lengthAdjust="spacing" xml:space="preserve">120(A)</text>
<text class="lb" x="473.3" y="125" font-size="24.0" textLength="34.5" lengthAdjust="spacing" xml:space="preserve">141</text>
<text class="lb" x="210" y="180" font-size="25.7" textLength="56" lengthAdjust="spacing" xml:space="preserve">0-14</text>
<text class="lb" x="267" y="217" font-size="25.7" textLength="39" lengthAdjust="spacing" xml:space="preserve">139</text>
<text class="lb" x="324" y="283" font-size="24.3" textLength="11" lengthAdjust="spacing" xml:space="preserve">3</text>
<text class="lb" x="291" y="320" font-size="24.3" textLength="23" lengthAdjust="spacing" xml:space="preserve">71</text>
<text class="lb" x="391" y="303" font-size="25.7" textLength="67" lengthAdjust="spacing" xml:space="preserve">14(A),</text>
<text class="lb" x="391" y="328" font-size="25.7" textLength="57" lengthAdjust="spacing" xml:space="preserve">14(C)</text>
<text class="lb" x="592" y="134" font-size="25.7" textLength="137" lengthAdjust="spacing" xml:space="preserve">14(B), 14(C)</text>
<text class="lb" x="690" y="170" font-size="25.7" textLength="57" lengthAdjust="spacing" xml:space="preserve">11(A)</text>
<text class="lb" x="851" y="200" font-size="24.3" textLength="26" lengthAdjust="spacing" xml:space="preserve">10</text>
<text class="lb" x="601" y="232" font-size="25.7" textLength="57" lengthAdjust="spacing" xml:space="preserve">11(B)</text>
<text class="lb" x="636" y="300" font-size="25.7" textLength="26" lengthAdjust="spacing" xml:space="preserve">56</text>
<text class="lb" x="693" y="323" font-size="24.3" textLength="7" lengthAdjust="spacing" xml:space="preserve">1</text>
<text class="lb" x="530" y="393" font-size="24.3" textLength="26" lengthAdjust="spacing" xml:space="preserve">23</text>
<text class="lb" x="438" y="422" font-size="25.7" textLength="45" lengthAdjust="spacing" xml:space="preserve">8(A)</text>
<text class="lb" x="432" y="459" font-size="24.3" textLength="43" lengthAdjust="spacing" xml:space="preserve">NSS</text>
<text class="lb" x="250" y="433" font-size="24.3" textLength="27" lengthAdjust="spacing" xml:space="preserve">23</text>
<text class="lb" x="246" y="475" font-size="24.3" textLength="43" lengthAdjust="spacing" xml:space="preserve">NSS</text>
<text class="lb" x="385" y="497" font-size="25.7" textLength="45" lengthAdjust="spacing" xml:space="preserve">8(C)</text>
<text class="lb" x="439" y="513" font-size="25.7" textLength="58" lengthAdjust="spacing" xml:space="preserve">98(B)</text>
<text class="lb" x="664" y="485" font-size="25.7" textLength="46" lengthAdjust="spacing" xml:space="preserve">8(A)</text>
<text class="lb" x="412" y="548" font-size="24.3" textLength="14" lengthAdjust="spacing" xml:space="preserve">4</text>
<text class="lb" x="245" y="577" font-size="25.7" textLength="58" lengthAdjust="spacing" xml:space="preserve">98(B)</text>
<text class="lb" x="245" y="614" font-size="25.7" textLength="58" lengthAdjust="spacing" xml:space="preserve">98(A)</text>
<text class="lb" x="625" y="700" font-size="25.7" textLength="46" lengthAdjust="spacing" xml:space="preserve">8(A)</text>
<text class="lb" x="668" y="767" font-size="24.3" textLength="39" lengthAdjust="spacing" xml:space="preserve">171</text>
<text class="lb" x="484" y="800" font-size="25.7" textLength="46" lengthAdjust="spacing" xml:space="preserve">8(B)</text>
<text class="lb" x="268" y="825" font-size="24.3" textLength="43" lengthAdjust="spacing" xml:space="preserve">NSS</text>
<text class="lb" x="425" y="845" font-size="25.7" textLength="45" lengthAdjust="spacing" xml:space="preserve">5(B)</text>
<text class="lb" x="322" y="868" font-size="25.7" textLength="46" lengthAdjust="spacing" xml:space="preserve">5(A)</text>
<text class="lb" x="738" y="905" font-size="24.3" textLength="13" lengthAdjust="spacing" xml:space="preserve">2</text>
<!-- 95_footer -->
<rect x="0" y="1280" width="1024" height="102" fill="#666666"/>
<g style="font-size:37.5px" >
<text x="264.5" y="1348.5" textLength="105" lengthAdjust="spacingAndGlyphs" style="fill:#fff">ISUZU</text>
<text x="383" y="1348.5" textLength="11.5" lengthAdjust="spacingAndGlyphs" style="fill:#fff">-</text>
<text x="404.5" y="1348.5" textLength="224" lengthAdjust="spacingAndGlyphs" style="fill:#fff">8970968260</text>
<text x="680" y="1348.5" textLength="27" lengthAdjust="spacingAndGlyphs" style="fill:#fff">N</text>
<text x="718.5" y="1348.5" textLength="11.5" lengthAdjust="spacingAndGlyphs" style="fill:#fff">-</text>
<text x="739" y="1348.5" textLength="21" lengthAdjust="spacingAndGlyphs" style="fill:#fff">7</text>
</g>

</svg>
</body></html>
